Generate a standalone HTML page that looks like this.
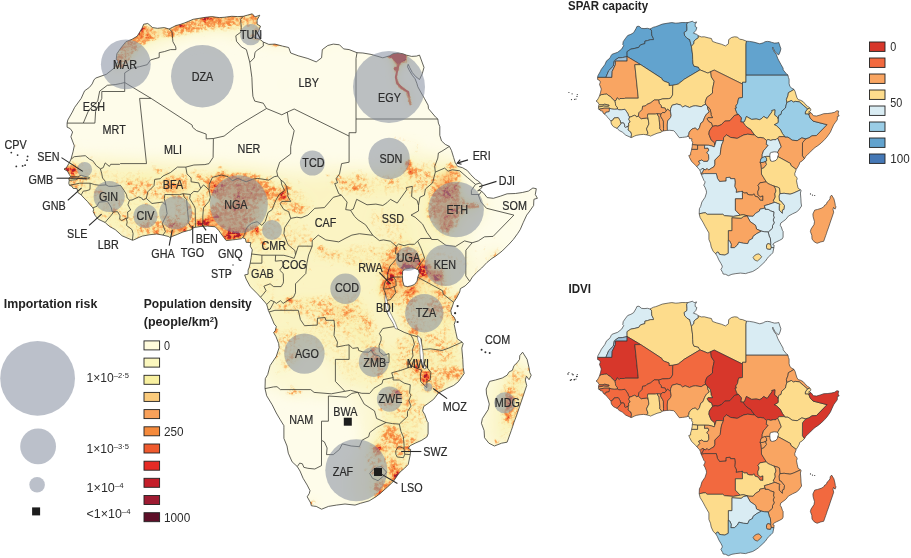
<!DOCTYPE html><html><head><meta charset="utf-8"><title>Africa maps</title><style>html,body{margin:0;padding:0;background:#fff}svg{display:block}text{font-family:"Liberation Sans",sans-serif;fill:#2b2b2b}.b{font-weight:bold;fill:#222}</style></head><body>
<svg width="911" height="558" viewBox="0 0 911 558">
<rect width="911" height="558" fill="#fff"/>
<defs>
<filter id="fb" filterUnits="userSpaceOnUse" x="0" y="-40" width="640" height="640"><feGaussianBlur stdDeviation="5"/></filter>
<filter id="fn" filterUnits="userSpaceOnUse" x="350" y="30" width="100" height="100"><feGaussianBlur stdDeviation="0.6"/></filter>
<filter id="ft" filterUnits="userSpaceOnUse" x="0" y="-40" width="640" height="640"><feGaussianBlur stdDeviation="7"/></filter>
<filter id="fd" filterUnits="userSpaceOnUse" x="40" y="0" width="540" height="540" color-interpolation-filters="sRGB">
<feGaussianBlur in="SourceGraphic" stdDeviation="4" result="H0"/>
<feColorMatrix in="H0" type="matrix" values="1 0 0 0 0  1 0 0 0 0  1 0 0 0 0  1 0 0 0 0" result="H1"/>
<feComponentTransfer in="H1" result="H"><feFuncR type="table" tableValues="0.984 0.984 0.976 0.973 0.976 0.984 0.980 0.980 0.980 0.980 0.980"/><feFuncG type="table" tableValues="0.969 0.969 0.949 0.941 0.878 0.796 0.753 0.722 0.722 0.722 0.722"/><feFuncB type="table" tableValues="0.745 0.745 0.667 0.627 0.565 0.486 0.447 0.416 0.416 0.416 0.416"/><feFuncA type="table" tableValues="0 0.12 0.25 0.4 0.6 0.8 1 1 1 1 1"/></feComponentTransfer>
<feGaussianBlur in="SourceGraphic" stdDeviation="1.6" result="D0"/>
<feTurbulence type="fractalNoise" baseFrequency="0.06" numOctaves="2" seed="5" result="T2"/>
<feColorMatrix in="T2" type="matrix" values="2.4 0 0 0 -0.7  2.4 0 0 0 -0.7  2.4 0 0 0 -0.7  0 0 0 0 1" result="N2"/>
<feComposite in="D0" in2="N2" operator="arithmetic" k1="0.7" k2="0.65" k3="0" k4="0" result="D"/>
<feTurbulence type="fractalNoise" baseFrequency="0.32" numOctaves="3" seed="11" result="T"/>
<feColorMatrix in="T" type="matrix" values="2.2 0 0 0 -0.6  2.2 0 0 0 -0.6  2.2 0 0 0 -0.6  0 0 0 0 1" result="N"/>
<feComposite in="D" in2="N" operator="arithmetic" k1="0.85" k2="0.08" k3="0" k4="0" result="V1"/>
<feComposite in="D" in2="D" operator="arithmetic" k1="1" k2="0" k3="0" k4="0" result="DD"/>
<feComposite in="V1" in2="DD" operator="arithmetic" k1="0" k2="1" k3="0.45" k4="0" result="V"/>
<feColorMatrix in="V" type="matrix" values="1 0 0 0 0  1 0 0 0 0  1 0 0 0 0  1 0 0 0 0" result="VA"/>
<feComponentTransfer in="VA" result="S"><feFuncR type="table" tableValues="0.984 0.984 0.984 0.980 0.976 0.969 0.961 0.941 0.910 0.824 0.659"/><feFuncG type="table" tableValues="0.796 0.796 0.796 0.722 0.631 0.576 0.541 0.439 0.271 0.165 0.118"/><feFuncB type="table" tableValues="0.486 0.486 0.486 0.416 0.353 0.290 0.235 0.227 0.169 0.157 0.176"/><feFuncA type="table" tableValues="0 0 0.3 0.8 1 1 1 1 1 1 1"/></feComponentTransfer>
<feMerge><feMergeNode in="H"/><feMergeNode in="S"/></feMerge>
</filter></defs>
<clipPath id="land"><path d="M143.7 24.2L147.8 23.5 152.6 27.6 157.5 28.3 164.3 27.6 169.1 29 176 25.5 180.1 24.5 184.9 22.8 193.2 19.3 205.5 17.3 211.7 16.6 219.3 17.6 224.1 17.3 231.7 16.3 237.8 16.6 243.3 16.3 252.3 13.8 255 16.9 259.8 15.2 257.1 20 257.1 24.2 260.5 26.2 258.4 31.7 253.6 37.2 259.8 39.3 263.3 42 268.8 44.4 274.9 44.1 282.5 46.1 288.7 47.5 290.7 53 298.3 55.8 307.9 58.5 316.2 61.9 321.6 57.8 322.3 49.6 327.8 45.5 333.3 44.1 339.5 44.8 343.6 48.9 349.1 49.6 357 52.7 362.9 53 371.1 54.4 382.8 57.8 389.7 55.8 393.1 53.7 397.9 53 402.7 53.7 406.2 55.1 411.6 56.4 416.5 56.1 419.5 55.1 424 67.4 422.3 73.6 419.5 79.5 415.8 76.7 412.3 72.6 409.6 67.4 408.2 64.3 407.5 66.7 409.6 70.9 412.3 75.3 415.1 78.8 416.8 83.2 417.8 86.7 420.2 91.1 424.4 98.4 428.1 105.2 428.5 108.7 435.7 117.2 437.8 119 438.4 123.1 439.8 126.5 439.8 135.4 441.5 140.9 445.3 144.4 449.4 146.4 451.5 150.6 453.6 157.4 455.3 162.9 457.7 166.4 462.5 167.7 467.3 170.5 470.7 174.6 475.5 179.4 477.9 180.8 480.3 182.9 482.1 184.9 481.7 188 477.6 190.8 480.7 190.4 481.4 191.4 483.1 192.5 487.2 197.6 493.4 198.3 500.3 196.2 507.1 193.8 515.4 193.5 522.3 192.5 528.4 191.1 532.9 188 536.3 188.7 535.3 194.5 537.4 198.3 533.9 199.3 533.6 205.5 529.8 211 526.7 215.1 523.3 222.4 520.2 229.6 517.8 233.3 513.3 239.5 509.2 244 502.3 250.9 495.8 256 492 258.4 486.9 262.5 481.7 268 476.6 272.5 472.4 277 469.7 281.4 465.2 285.9 460.4 288.6 459.7 292.1 458 295.2 456.6 297.9 453.6 302.3 452.9 304.8 450.8 310.6 451.5 314.4 454.2 317.2 455.6 320.3 454.2 324.4 455.6 331.2 457.3 338.8 460.4 340.9 462.1 342.1 463.2 343.6 461.8 348.1 462.8 359.4 463.2 367.7 464.2 373.5 458.4 381.7 453.6 385.5 446.7 388.6 438.4 393.1 433.6 399.3 428.1 403.4 423.7 406.5 422.6 410.9 424.7 414.4 427.1 421.2 428.1 422.6 428.1 433.9 426.8 437 421.3 440.5 415.8 442.9 410.3 445.6 408.2 448.4 410.6 449.4 410.3 454.6 408.2 464.5 404.8 468 400 472.1 397.6 475.2 393.4 481.4 387.3 487.2 380 493.7 375.9 496.8 369.1 500.9 360.5 503.3 355 505.1 345 504 336.4 505.1 328.5 506.4 321.6 509.2 316.2 506.4 313.4 506.1 311.3 505.7 310.7 503 307.2 496.8 309.3 493.4 310 490.6 307.2 485.1 303.1 478.3 300 471 297.3 466.6 292.1 461.8 288.3 453.2 287 446 283.9 438.4 283.9 427.8 283.9 425.7 280.1 419.5 276.3 413 272.2 404.8 266.7 395.8 265 388.6 265.3 378.6 267.7 374.5 270.1 365.6 276.3 356.3 279.1 347.7 278.7 343.6 276 336.7 273.6 332.6 275.3 330.6 276.3 326.4 274.2 324 272.5 319.9 269.1 312 268.4 310.6 268.1 309.6 267.7 307.9 266.7 304.5 265.7 303.1 260.5 297.2 257.4 293.8 250.2 286.6 246.1 279 244.7 274.9 248.1 274.2 248.1 270.1 249.2 267.4 250.2 263.2 251.2 257.4 251.6 254 252.3 249.8 250.2 246.1 250.9 242.6 246.1 242.3 245.4 238.8 242.6 237.8 241.3 238.8 235.8 239.5 232.3 239.9 226.2 240.6 222 235.1 218.6 230.3 215.2 226.8 207.6 226.1 202.9 226.3 200.7 226.5 195.4 227.3 192.5 228.1 191.1 229.9 188.7 230.4 182.9 232 177.4 234.4 172.2 236.4 169.8 237.5 168.8 236.6 163 235.1 156.8 234 149.9 234.7 142.3 236.1 138.9 237.5 133.8 239.9 132.4 240.2 122.1 235.8 115.2 229.6 110.1 226.8 106.3 223.7 105.2 222.5 98.4 219.3 95.3 215.8 93.2 211.7 93.6 209.3 92.9 207.9 90.1 204.8 87.4 201.4 83.9 198 81.2 194.9 77.8 192.5 77.1 188.7 73 188.3 71.9 186.3 69.5 185.3 68.8 183.5 69.2 180.4 68.8 178.4 70.6 176.7 69.2 174.3 67.5 171.2 64 169.1 66.4 167.7 68.8 163.6 70.9 159.5 73 151.9 74.3 145.8 70.9 136.8 72.6 132 70.2 128.6 67.1 127.2 67.1 123.1 67.8 120 72.3 112.1 74.7 107.3 81.2 98.4 84.6 90.8 89.4 87.4 92.2 83.9 93.9 80 95.6 78.1 106.3 74.3 114.2 68.1 118 61.3 116.2 59.5 116.9 53.7 120.7 48.2 125.9 41.7 132 39.3 137.2 36.2 142 28.3ZM522.6 352.2L527.1 359.4 529.1 368 529.8 372.5 531.2 375.2 529.1 379.7 526.4 376.2 525.3 380 526.7 385.5 523.6 394.8 520.9 402.7 519.5 406.8 516.4 416.1 514 422.3 512.6 426.7 511.3 430.5 507.1 442.2 501.6 443.2 494.4 446 488.9 443.2 484.5 437.7 484.1 430.5 481.4 423.3 482.4 418.5 488.2 409.6 489.3 404.1 486.5 394.1 486.2 389 489.6 381.4 495.5 380 502.3 378 507.1 375.2 509.2 371.8 512.3 370.4 514 365.6 517.1 362.8 519.5 359.4 519.8 355.6Z"/></clipPath>
<path d="M143.7 24.2L147.8 23.5 152.6 27.6 157.5 28.3 164.3 27.6 169.1 29 176 25.5 180.1 24.5 184.9 22.8 193.2 19.3 205.5 17.3 211.7 16.6 219.3 17.6 224.1 17.3 231.7 16.3 237.8 16.6 243.3 16.3 252.3 13.8 255 16.9 259.8 15.2 257.1 20 257.1 24.2 260.5 26.2 258.4 31.7 253.6 37.2 259.8 39.3 263.3 42 268.8 44.4 274.9 44.1 282.5 46.1 288.7 47.5 290.7 53 298.3 55.8 307.9 58.5 316.2 61.9 321.6 57.8 322.3 49.6 327.8 45.5 333.3 44.1 339.5 44.8 343.6 48.9 349.1 49.6 357 52.7 362.9 53 371.1 54.4 382.8 57.8 389.7 55.8 393.1 53.7 397.9 53 402.7 53.7 406.2 55.1 411.6 56.4 416.5 56.1 419.5 55.1 424 67.4 422.3 73.6 419.5 79.5 415.8 76.7 412.3 72.6 409.6 67.4 408.2 64.3 407.5 66.7 409.6 70.9 412.3 75.3 415.1 78.8 416.8 83.2 417.8 86.7 420.2 91.1 424.4 98.4 428.1 105.2 428.5 108.7 435.7 117.2 437.8 119 438.4 123.1 439.8 126.5 439.8 135.4 441.5 140.9 445.3 144.4 449.4 146.4 451.5 150.6 453.6 157.4 455.3 162.9 457.7 166.4 462.5 167.7 467.3 170.5 470.7 174.6 475.5 179.4 477.9 180.8 480.3 182.9 482.1 184.9 481.7 188 477.6 190.8 480.7 190.4 481.4 191.4 483.1 192.5 487.2 197.6 493.4 198.3 500.3 196.2 507.1 193.8 515.4 193.5 522.3 192.5 528.4 191.1 532.9 188 536.3 188.7 535.3 194.5 537.4 198.3 533.9 199.3 533.6 205.5 529.8 211 526.7 215.1 523.3 222.4 520.2 229.6 517.8 233.3 513.3 239.5 509.2 244 502.3 250.9 495.8 256 492 258.4 486.9 262.5 481.7 268 476.6 272.5 472.4 277 469.7 281.4 465.2 285.9 460.4 288.6 459.7 292.1 458 295.2 456.6 297.9 453.6 302.3 452.9 304.8 450.8 310.6 451.5 314.4 454.2 317.2 455.6 320.3 454.2 324.4 455.6 331.2 457.3 338.8 460.4 340.9 462.1 342.1 463.2 343.6 461.8 348.1 462.8 359.4 463.2 367.7 464.2 373.5 458.4 381.7 453.6 385.5 446.7 388.6 438.4 393.1 433.6 399.3 428.1 403.4 423.7 406.5 422.6 410.9 424.7 414.4 427.1 421.2 428.1 422.6 428.1 433.9 426.8 437 421.3 440.5 415.8 442.9 410.3 445.6 408.2 448.4 410.6 449.4 410.3 454.6 408.2 464.5 404.8 468 400 472.1 397.6 475.2 393.4 481.4 387.3 487.2 380 493.7 375.9 496.8 369.1 500.9 360.5 503.3 355 505.1 345 504 336.4 505.1 328.5 506.4 321.6 509.2 316.2 506.4 313.4 506.1 311.3 505.7 310.7 503 307.2 496.8 309.3 493.4 310 490.6 307.2 485.1 303.1 478.3 300 471 297.3 466.6 292.1 461.8 288.3 453.2 287 446 283.9 438.4 283.9 427.8 283.9 425.7 280.1 419.5 276.3 413 272.2 404.8 266.7 395.8 265 388.6 265.3 378.6 267.7 374.5 270.1 365.6 276.3 356.3 279.1 347.7 278.7 343.6 276 336.7 273.6 332.6 275.3 330.6 276.3 326.4 274.2 324 272.5 319.9 269.1 312 268.4 310.6 268.1 309.6 267.7 307.9 266.7 304.5 265.7 303.1 260.5 297.2 257.4 293.8 250.2 286.6 246.1 279 244.7 274.9 248.1 274.2 248.1 270.1 249.2 267.4 250.2 263.2 251.2 257.4 251.6 254 252.3 249.8 250.2 246.1 250.9 242.6 246.1 242.3 245.4 238.8 242.6 237.8 241.3 238.8 235.8 239.5 232.3 239.9 226.2 240.6 222 235.1 218.6 230.3 215.2 226.8 207.6 226.1 202.9 226.3 200.7 226.5 195.4 227.3 192.5 228.1 191.1 229.9 188.7 230.4 182.9 232 177.4 234.4 172.2 236.4 169.8 237.5 168.8 236.6 163 235.1 156.8 234 149.9 234.7 142.3 236.1 138.9 237.5 133.8 239.9 132.4 240.2 122.1 235.8 115.2 229.6 110.1 226.8 106.3 223.7 105.2 222.5 98.4 219.3 95.3 215.8 93.2 211.7 93.6 209.3 92.9 207.9 90.1 204.8 87.4 201.4 83.9 198 81.2 194.9 77.8 192.5 77.1 188.7 73 188.3 71.9 186.3 69.5 185.3 68.8 183.5 69.2 180.4 68.8 178.4 70.6 176.7 69.2 174.3 67.5 171.2 64 169.1 66.4 167.7 68.8 163.6 70.9 159.5 73 151.9 74.3 145.8 70.9 136.8 72.6 132 70.2 128.6 67.1 127.2 67.1 123.1 67.8 120 72.3 112.1 74.7 107.3 81.2 98.4 84.6 90.8 89.4 87.4 92.2 83.9 93.9 80 95.6 78.1 106.3 74.3 114.2 68.1 118 61.3 116.2 59.5 116.9 53.7 120.7 48.2 125.9 41.7 132 39.3 137.2 36.2 142 28.3ZM522.6 352.2L527.1 359.4 529.1 368 529.8 372.5 531.2 375.2 529.1 379.7 526.4 376.2 525.3 380 526.7 385.5 523.6 394.8 520.9 402.7 519.5 406.8 516.4 416.1 514 422.3 512.6 426.7 511.3 430.5 507.1 442.2 501.6 443.2 494.4 446 488.9 443.2 484.5 437.7 484.1 430.5 481.4 423.3 482.4 418.5 488.2 409.6 489.3 404.1 486.5 394.1 486.2 389 489.6 381.4 495.5 380 502.3 378 507.1 375.2 509.2 371.8 512.3 370.4 514 365.6 517.1 362.8 519.5 359.4 519.8 355.6Z" fill="#FEFCEA"/>
<g clip-path="url(#land)">
<g filter="url(#ft)">
<path fill="#FCF8D6" d="M61 157L102 155 150 157 205 160 253 164 287 167 335 164 377 167 411 150 432 153 452 157 466 181 483 195 487 215 473 229 466 249 473 270 473 291 462 311 466 339 473 373 445 401 435 435 418 462 397 490 370 511 349 497 349 469 363 442 356 414 349 397 322 397 287 394 267 387 253 353 253 311 232 291 232 256 212 249 171 249 122 249 88 229 54 195Z"/>
<path fill="#FBF4C4" d="M67 164L116 164 157 167 212 170 267 174 294 181 335 177 370 181 411 170 432 164 456 167 459 195 476 205 459 219 449 243 432 246 428 270 445 287 459 301 459 339 466 366 442 394 425 414 425 438 411 449 404 469 383 493 370 490 377 462 373 435 383 414 370 390 339 380 329 353 294 346 270 335 260 311 239 284 239 253 219 246 171 243 129 243 95 222 61 188Z"/>
<path fill="#FCF8D6" d="M112 67L116 43 140 19 171 23 205 12 246 9 263 16 260 43 246 40 225 35 191 38 164 47 136 61Z"/>
<path fill="#FCF8D6" d="M389 52L408 52 407 63 400 67 392 63Z"/>
<path fill="#FCF8D6" d="M480 435L483 380 514 353 535 373 521 421 507 449 487 449Z"/>
<path fill="#FBF4C4" d="M493 435L497 394 511 366 531 370 524 394 517 421 507 445Z"/>
</g>
<g filter="url(#fd)"><rect x="40" y="0" width="540" height="540" fill="#000"/>
<g filter="url(#fb)">
<path d="M425 239L445 246 466 244 473 263 466 280 452 291 445 274 432 263Z" fill="#2b2b2b"/>
<path d="M473 270L487 246 500 249 497 258 480 274Z" fill="#2e2e2e"/>
<path d="M246 254L247 277 260 298 274 301 280 287 274 260Z" fill="#2e2e2e"/>
<path d="M370 243L394 245 414 244 418 229 404 208 377 205 363 215Z" fill="#2e2e2e"/>
<path d="M298 328L329 322 349 342 349 359 329 366 304 349Z" fill="#333333"/>
<path d="M335 359L370 353 370 383 359 392 339 380Z" fill="#333333"/>
<path d="M67 164L102 167 150 170 184 170 212 170 253 173 280 177 294 184 315 195 315 212 287 219 274 229 253 236 246 243 219 239 205 229 164 237 129 241 109 225 92 212 81 198 67 184Z" fill="#363636"/>
<path d="M250 253L274 256 294 256 311 246 315 229 294 219 274 225 253 236Z" fill="#383838"/>
<path d="M308 244L335 246 363 244 387 249 383 267 363 274 335 263 311 260Z" fill="#424242"/>
<path d="M276 328L298 328 304 349 298 366 280 377 274 359Z" fill="#424242"/>
<path d="M335 174L363 170 390 174 411 160 435 160 435 181 421 195 397 195 370 198 342 195 335 188Z" fill="#424242"/>
<path d="M394 308L411 308 425 304 438 322 456 322 458 342 432 349 421 346 411 334 397 328Z" fill="#424242"/>
<path d="M370 353L390 346 411 332 432 339 462 342 465 373 438 394 425 392 411 383 390 380 373 383 370 366Z" fill="#474747"/>
<path d="M377 394L397 383 414 390 423 406 428 428 411 445 410 459 397 476 377 497 366 499 370 476 366 459 373 438 383 421Z" fill="#474747"/>
<path d="M280 299L301 294 329 294 356 294 370 304 377 325 380 346 373 356 356 349 339 328 315 322 294 315 274 311Z" fill="#4c4c4c"/>
<path d="M500 440L500 394 514 363 530 373 523 397 514 425 509 442Z" fill="#4c4c4c"/>
<path d="M383 249L397 244 421 249 432 263 445 274 445 287 458 301 456 322 438 322 425 304 411 308 394 308 380 301 379 277 383 260Z" fill="#545454"/>
<path d="M390 278L388 267 396 254 397 247 408 245 418 249 424 259 418 269 417 276 401 277Z" fill="#6b6b6b"/>
<path d="M438 172L458 172 459 188 459 201 475 203 478 206 460 212 456 223 451 234 442 233 435 225 429 220 426 210 430 198 434 186Z" fill="#9e9e9e"/>
</g><g style="mix-blend-mode:lighten">
<circle cx="283.2" cy="84.3" r="2.1" fill="#262626"/>
<circle cx="456.3" cy="258.1" r="2.1" fill="#262626"/>
<circle cx="287.3" cy="273.5" r="2.1" fill="#262626"/>
<circle cx="315.5" cy="222.7" r="2.1" fill="#262626"/>
<circle cx="239.1" cy="153.5" r="1.4" fill="#262626"/>
<circle cx="105.9" cy="156.1" r="2.1" fill="#262626"/>
<circle cx="169.1" cy="53.0" r="2.1" fill="#333333"/>
<circle cx="298.3" cy="55.8" r="2.1" fill="#333333"/>
<circle cx="388.3" cy="223.4" r="2.1" fill="#333333"/>
<circle cx="379.4" cy="238.5" r="2.1" fill="#333333"/>
<circle cx="411.0" cy="212.4" r="2.1" fill="#333333"/>
<circle cx="383.5" cy="208.3" r="2.1" fill="#333333"/>
<circle cx="509.9" cy="223.7" r="2.1" fill="#333333"/>
<circle cx="503.0" cy="249.5" r="2.7" fill="#333333"/>
<circle cx="445.3" cy="286.6" r="3.4" fill="#333333"/>
<circle cx="465.2" cy="285.9" r="1.4" fill="#333333"/>
<circle cx="397.9" cy="314.1" r="2.1" fill="#333333"/>
<circle cx="411.0" cy="428.1" r="2.7" fill="#333333"/>
<circle cx="342.9" cy="374.9" r="2.1" fill="#333333"/>
<circle cx="367.7" cy="424.0" r="2.1" fill="#333333"/>
<circle cx="324.4" cy="336.4" r="2.1" fill="#333333"/>
<circle cx="305.8" cy="370.7" r="2.1" fill="#333333"/>
<circle cx="342.3" cy="335.4" r="2.7" fill="#333333"/>
<circle cx="325.1" cy="283.8" r="2.7" fill="#333333"/>
<circle cx="332.0" cy="264.6" r="2.7" fill="#333333"/>
<circle cx="366.3" cy="263.2" r="2.7" fill="#333333"/>
<circle cx="314.8" cy="259.8" r="2.7" fill="#333333"/>
<circle cx="303.1" cy="283.8" r="2.1" fill="#333333"/>
<circle cx="359.4" cy="246.1" r="2.7" fill="#333333"/>
<circle cx="277.7" cy="281.1" r="2.1" fill="#333333"/>
<circle cx="263.9" cy="259.1" r="2.1" fill="#333333"/>
<circle cx="340.9" cy="237.5" r="2.1" fill="#333333"/>
<circle cx="323.7" cy="194.5" r="3.4" fill="#333333"/>
<circle cx="299.7" cy="181.5" r="3.4" fill="#333333"/>
<circle cx="98.4" cy="158.8" r="2.1" fill="#333333"/>
<circle cx="163.6" cy="155.0" r="1.4" fill="#333333"/>
<circle cx="167.1" cy="168.4" r="3.4" fill="#333333"/>
<circle cx="500.3" cy="407.5" r="3.4" fill="#333333"/>
<circle cx="503.0" cy="424.7" r="3.4" fill="#333333"/>
<path d="M180.8 32.4L204.9 27.6 228.9 26.2 239.2 26.9" fill="none" stroke="#383838" stroke-width="10.3" stroke-linecap="round" stroke-linejoin="round"/>
<ellipse cx="390.4" cy="182.2" rx="12.4" ry="6.2" fill="#383838"/>
<path d="M476.9 268L476.2 252.9 474.9 244" fill="none" stroke="#383838" stroke-width="2.7" stroke-linecap="round" stroke-linejoin="round"/>
<circle cx="183.9" cy="158.5" r="1.4" fill="#383838"/>
<circle cx="209.7" cy="46.8" r="2.1" fill="#404040"/>
<circle cx="220.7" cy="50.6" r="2.1" fill="#404040"/>
<circle cx="348.8" cy="49.9" r="2.1" fill="#404040"/>
<circle cx="371.1" cy="54.7" r="1.4" fill="#404040"/>
<circle cx="416.5" cy="82.9" r="1.4" fill="#404040"/>
<path d="M408.9 180.1L407.5 187.7 409.6 198" fill="none" stroke="#404040" stroke-width="3.4" stroke-linecap="round" stroke-linejoin="round"/>
<circle cx="379.4" cy="191.1" r="2.1" fill="#404040"/>
<circle cx="398.6" cy="187.0" r="2.1" fill="#404040"/>
<circle cx="366.3" cy="191.1" r="2.1" fill="#404040"/>
<circle cx="401.7" cy="204.8" r="2.1" fill="#404040"/>
<circle cx="408.2" cy="241.2" r="2.1" fill="#404040"/>
<circle cx="496.8" cy="204.8" r="2.1" fill="#404040"/>
<circle cx="522.3" cy="192.5" r="1.4" fill="#404040"/>
<circle cx="482.4" cy="201.4" r="2.1" fill="#404040"/>
<circle cx="494.8" cy="237.8" r="2.1" fill="#404040"/>
<circle cx="452.2" cy="325.1" r="2.7" fill="#404040"/>
<path d="M376.6 378.6L371.8 383.5 362.2 392.4" fill="none" stroke="#404040" stroke-width="2.7" stroke-linecap="round" stroke-linejoin="round"/>
<circle cx="398.6" cy="340.2" r="2.7" fill="#404040"/>
<circle cx="383.5" cy="393.8" r="2.7" fill="#404040"/>
<circle cx="338.8" cy="503.7" r="2.1" fill="#404040"/>
<circle cx="320.3" cy="393.1" r="2.1" fill="#404040"/>
<circle cx="288.0" cy="343.6" r="2.7" fill="#404040"/>
<circle cx="345.0" cy="294.1" r="2.7" fill="#404040"/>
<circle cx="328.5" cy="299.6" r="3.4" fill="#404040"/>
<circle cx="301.0" cy="297.6" r="2.7" fill="#404040"/>
<circle cx="349.1" cy="250.9" r="2.7" fill="#404040"/>
<circle cx="371.1" cy="290.7" r="3.4" fill="#404040"/>
<circle cx="376.6" cy="328.5" r="3.4" fill="#404040"/>
<circle cx="318.9" cy="297.6" r="3.4" fill="#404040"/>
<circle cx="383.5" cy="247.4" r="2.7" fill="#404040"/>
<circle cx="278.4" cy="239.2" r="2.1" fill="#404040"/>
<circle cx="266.7" cy="250.2" r="2.7" fill="#404040"/>
<circle cx="326.1" cy="230.6" r="2.1" fill="#404040"/>
<circle cx="296.9" cy="222.7" r="2.7" fill="#404040"/>
<circle cx="312.7" cy="186.3" r="2.1" fill="#404040"/>
<circle cx="132.7" cy="204.8" r="2.7" fill="#404040"/>
<circle cx="131.4" cy="239.9" r="1.4" fill="#404040"/>
<circle cx="81.9" cy="162.9" r="3.4" fill="#404040"/>
<circle cx="92.9" cy="162.9" r="2.1" fill="#404040"/>
<circle cx="91.5" cy="156.7" r="2.1" fill="#404040"/>
<circle cx="129.3" cy="175.3" r="3.4" fill="#404040"/>
<circle cx="119.0" cy="180.8" r="3.4" fill="#404040"/>
<circle cx="153.3" cy="165.0" r="3.4" fill="#404040"/>
<circle cx="507.1" cy="386.9" r="2.7" fill="#404040"/>
<circle cx="488.6" cy="409.6" r="1.4" fill="#404040"/>
<circle cx="292.1" cy="386.9" r="2.7" fill="#474747"/>
<ellipse cx="103.2" cy="211.7" rx="6.9" ry="6.2" fill="#474747"/>
<circle cx="204.2" cy="37.9" r="2.1" fill="#4c4c4c"/>
<circle cx="231.3" cy="40.6" r="2.1" fill="#4c4c4c"/>
<circle cx="244.7" cy="33.8" r="2.1" fill="#4c4c4c"/>
<circle cx="333.3" cy="44.8" r="2.1" fill="#4c4c4c"/>
<path d="M407.9 162.9L413.7 155.4 417.5 149.2 417.1 143 404.1 139.6 393.8 138.2" fill="none" stroke="#4c4c4c" stroke-width="2.7" stroke-linecap="round" stroke-linejoin="round"/>
<ellipse cx="352.6" cy="182.9" rx="15.1" ry="9.6" fill="#4c4c4c"/>
<circle cx="420.2" cy="189.0" r="2.1" fill="#4c4c4c"/>
<circle cx="388.3" cy="194.5" r="2.1" fill="#4c4c4c"/>
<circle cx="376.6" cy="217.2" r="2.1" fill="#4c4c4c"/>
<circle cx="372.5" cy="209.6" r="2.1" fill="#4c4c4c"/>
<circle cx="395.2" cy="243.3" r="2.1" fill="#4c4c4c"/>
<circle cx="455.3" cy="162.9" r="1.4" fill="#4c4c4c"/>
<circle cx="422.0" cy="213.8" r="2.1" fill="#4c4c4c"/>
<circle cx="479.7" cy="206.2" r="2.1" fill="#4c4c4c"/>
<path d="M486.5 259.8L495.5 253.6 497.5 248.1" fill="none" stroke="#4c4c4c" stroke-width="4.1" stroke-linecap="round" stroke-linejoin="round"/>
<circle cx="445.3" cy="293.5" r="2.1" fill="#4c4c4c"/>
<circle cx="424.7" cy="330.6" r="4.1" fill="#4c4c4c"/>
<circle cx="429.2" cy="343.6" r="2.1" fill="#4c4c4c"/>
<circle cx="423.3" cy="303.1" r="3.4" fill="#4c4c4c"/>
<circle cx="431.6" cy="299.6" r="3.4" fill="#4c4c4c"/>
<circle cx="435.0" cy="373.2" r="3.4" fill="#4c4c4c"/>
<circle cx="426.8" cy="420.6" r="2.1" fill="#4c4c4c"/>
<circle cx="422.0" cy="390.3" r="2.7" fill="#4c4c4c"/>
<circle cx="454.2" cy="352.5" r="4.1" fill="#4c4c4c"/>
<ellipse cx="382.1" cy="342.2" rx="2.1" ry="6.9" fill="#4c4c4c"/>
<circle cx="403.4" cy="359.4" r="4.1" fill="#4c4c4c"/>
<circle cx="365.6" cy="353.9" r="2.1" fill="#4c4c4c"/>
<circle cx="401.3" cy="411.6" r="3.4" fill="#4c4c4c"/>
<circle cx="389.0" cy="457.7" r="2.7" fill="#4c4c4c"/>
<circle cx="367.7" cy="455.6" r="2.1" fill="#4c4c4c"/>
<circle cx="373.2" cy="415.7" r="1.4" fill="#4c4c4c"/>
<circle cx="286.6" cy="347.0" r="2.7" fill="#4c4c4c"/>
<circle cx="283.9" cy="364.9" r="2.7" fill="#4c4c4c"/>
<circle cx="282.5" cy="333.3" r="2.7" fill="#4c4c4c"/>
<ellipse cx="311.3" cy="304.5" rx="8.9" ry="5.5" fill="#4c4c4c"/>
<circle cx="362.5" cy="290.4" r="2.1" fill="#4c4c4c"/>
<circle cx="353.9" cy="297.6" r="3.4" fill="#4c4c4c"/>
<circle cx="299.7" cy="309.9" r="2.7" fill="#4c4c4c"/>
<circle cx="369.1" cy="320.3" r="2.7" fill="#4c4c4c"/>
<circle cx="356.0" cy="330.6" r="2.7" fill="#4c4c4c"/>
<circle cx="382.1" cy="259.8" r="2.7" fill="#4c4c4c"/>
<circle cx="244.7" cy="274.9" r="1.0" fill="#4c4c4c"/>
<circle cx="279.7" cy="211.7" r="2.7" fill="#4c4c4c"/>
<circle cx="292.8" cy="240.9" r="2.1" fill="#4c4c4c"/>
<circle cx="291.4" cy="229.2" r="2.1" fill="#4c4c4c"/>
<circle cx="304.1" cy="225.4" r="2.1" fill="#4c4c4c"/>
<circle cx="285.9" cy="179.4" r="2.7" fill="#4c4c4c"/>
<circle cx="301.0" cy="199.3" r="3.4" fill="#4c4c4c"/>
<circle cx="331.3" cy="183.5" r="3.4" fill="#4c4c4c"/>
<circle cx="270.8" cy="178.7" r="2.1" fill="#4c4c4c"/>
<circle cx="194.6" cy="172.5" r="3.4" fill="#4c4c4c"/>
<circle cx="182.2" cy="216.5" r="3.4" fill="#4c4c4c"/>
<circle cx="183.6" cy="173.9" r="2.7" fill="#4c4c4c"/>
<circle cx="165.0" cy="215.1" r="2.7" fill="#4c4c4c"/>
<circle cx="138.9" cy="215.1" r="2.7" fill="#4c4c4c"/>
<circle cx="119.0" cy="222.0" r="2.7" fill="#4c4c4c"/>
<circle cx="115.5" cy="229.6" r="2.1" fill="#4c4c4c"/>
<circle cx="122.4" cy="211.7" r="2.7" fill="#4c4c4c"/>
<circle cx="110.4" cy="201.1" r="2.1" fill="#4c4c4c"/>
<circle cx="83.6" cy="186.3" r="2.7" fill="#4c4c4c"/>
<circle cx="74.3" cy="186.3" r="2.1" fill="#4c4c4c"/>
<circle cx="90.1" cy="175.6" r="2.1" fill="#4c4c4c"/>
<path d="M72.3 157.4L84.6 156.1 92.9 162.2" fill="none" stroke="#4c4c4c" stroke-width="2.1" stroke-linecap="round" stroke-linejoin="round"/>
<circle cx="67.5" cy="126.5" r="1.0" fill="#4c4c4c"/>
<ellipse cx="99.7" cy="194.5" rx="7.6" ry="4.8" fill="#525252"/>
<circle cx="496.8" cy="441.9" r="3.4" fill="#525252"/>
<circle cx="223.4" cy="30.7" r="2.1" fill="#595959"/>
<circle cx="249.5" cy="25.5" r="3.4" fill="#595959"/>
<path d="M266.7 44.8L274.9 44.4 282.5 46.1 288 47.5" fill="none" stroke="#595959" stroke-width="3.4" stroke-linecap="round" stroke-linejoin="round"/>
<circle cx="484.1" cy="248.8" r="2.1" fill="#595959"/>
<circle cx="476.6" cy="272.5" r="2.1" fill="#595959"/>
<path d="M453.6 301.7L458.4 294.1 460.1 290.7" fill="none" stroke="#595959" stroke-width="2.7" stroke-linecap="round" stroke-linejoin="round"/>
<path d="M384.2 293.5L383.5 301 384.9 310.6" fill="none" stroke="#595959" stroke-width="2.7" stroke-linecap="round" stroke-linejoin="round"/>
<ellipse cx="411.0" cy="297.6" rx="7.6" ry="5.5" fill="#595959"/>
<circle cx="426.4" cy="361.5" r="2.1" fill="#595959"/>
<circle cx="447.4" cy="376.6" r="3.4" fill="#595959"/>
<circle cx="395.8" cy="408.2" r="3.4" fill="#595959"/>
<circle cx="389.0" cy="403.7" r="2.7" fill="#595959"/>
<circle cx="391.7" cy="396.5" r="2.7" fill="#595959"/>
<circle cx="360.1" cy="447.7" r="2.1" fill="#595959"/>
<circle cx="354.3" cy="467.6" r="1.4" fill="#595959"/>
<circle cx="386.9" cy="461.1" r="3.4" fill="#595959"/>
<circle cx="301.7" cy="425.0" r="1.4" fill="#595959"/>
<circle cx="300.7" cy="355.3" r="2.1" fill="#595959"/>
<circle cx="296.6" cy="335.7" r="2.1" fill="#595959"/>
<circle cx="287.6" cy="322.3" r="2.1" fill="#595959"/>
<circle cx="384.9" cy="311.0" r="2.1" fill="#595959"/>
<circle cx="335.4" cy="255.0" r="2.7" fill="#595959"/>
<circle cx="373.9" cy="250.9" r="2.7" fill="#595959"/>
<circle cx="338.8" cy="321.6" r="3.4" fill="#595959"/>
<circle cx="271.5" cy="299.0" r="2.1" fill="#595959"/>
<circle cx="277.7" cy="219.9" r="2.1" fill="#595959"/>
<circle cx="261.2" cy="237.8" r="2.7" fill="#595959"/>
<circle cx="327.5" cy="175.0" r="2.1" fill="#595959"/>
<circle cx="222.0" cy="199.3" r="3.4" fill="#595959"/>
<circle cx="260.5" cy="215.8" r="3.4" fill="#595959"/>
<circle cx="266.7" cy="181.5" r="3.4" fill="#595959"/>
<circle cx="225.5" cy="171.9" r="3.4" fill="#595959"/>
<circle cx="204.2" cy="193.8" r="2.1" fill="#595959"/>
<circle cx="186.7" cy="187.3" r="2.7" fill="#595959"/>
<circle cx="160.2" cy="184.2" r="2.7" fill="#595959"/>
<circle cx="163.6" cy="197.3" r="3.4" fill="#595959"/>
<circle cx="160.2" cy="224.1" r="2.7" fill="#595959"/>
<circle cx="123.8" cy="220.6" r="2.7" fill="#595959"/>
<circle cx="108.7" cy="210.7" r="2.1" fill="#595959"/>
<circle cx="120.4" cy="198.7" r="2.1" fill="#595959"/>
<circle cx="86.0" cy="194.9" r="2.1" fill="#595959"/>
<circle cx="81.9" cy="181.5" r="2.7" fill="#595959"/>
<circle cx="74.3" cy="162.9" r="2.7" fill="#595959"/>
<circle cx="105.6" cy="170.8" r="2.1" fill="#595959"/>
<circle cx="132.4" cy="191.8" r="2.7" fill="#595959"/>
<circle cx="159.5" cy="171.5" r="3.4" fill="#595959"/>
<circle cx="149.9" cy="185.6" r="2.7" fill="#595959"/>
<circle cx="137.5" cy="187.7" r="3.4" fill="#595959"/>
<circle cx="522.9" cy="354.6" r="1.4" fill="#595959"/>
<circle cx="502.3" cy="378.0" r="1.4" fill="#595959"/>
<circle cx="484.5" cy="430.5" r="1.4" fill="#595959"/>
<circle cx="506.8" cy="441.9" r="1.4" fill="#595959"/>
<circle cx="525.7" cy="376.6" r="2.1" fill="#595959"/>
<circle cx="516.1" cy="363.5" r="2.1" fill="#595959"/>
<ellipse cx="338.8" cy="311.3" rx="15.1" ry="7.6" fill="#5c5c5c"/>
<ellipse cx="201.4" cy="204.8" rx="4.8" ry="11.0" fill="#5c5c5c"/>
<ellipse cx="149.9" cy="227.5" rx="13.7" ry="6.9" fill="#5c5c5c"/>
<ellipse cx="143.7" cy="181.5" rx="8.9" ry="4.8" fill="#5c5c5c"/>
<ellipse cx="399.3" cy="392.4" rx="8.9" ry="6.9" fill="#616161"/>
<ellipse cx="294.2" cy="392.4" rx="8.9" ry="2.7" fill="#616161"/>
<ellipse cx="280.4" cy="306.5" rx="7.6" ry="2.7" fill="#616161"/>
<circle cx="244.7" cy="19.3" r="3.4" fill="#666666"/>
<circle cx="345.7" cy="181.5" r="2.1" fill="#666666"/>
<circle cx="439.8" cy="135.4" r="1.4" fill="#666666"/>
<circle cx="417.8" cy="179.8" r="2.1" fill="#666666"/>
<circle cx="401.3" cy="236.8" r="2.1" fill="#666666"/>
<ellipse cx="450.8" cy="167.1" rx="6.9" ry="4.1" fill="#666666"/>
<circle cx="486.9" cy="204.5" r="2.1" fill="#666666"/>
<circle cx="381.4" cy="291.4" r="3.4" fill="#666666"/>
<circle cx="442.9" cy="316.8" r="2.1" fill="#666666"/>
<circle cx="429.9" cy="312.7" r="2.1" fill="#666666"/>
<circle cx="447.4" cy="305.1" r="3.4" fill="#666666"/>
<ellipse cx="455.6" cy="373.2" rx="8.9" ry="5.5" fill="#666666"/>
<path d="M427.4 433.6L424 439.1 415.1 442.5" fill="none" stroke="#666666" stroke-width="3.4" stroke-linecap="round" stroke-linejoin="round"/>
<circle cx="462.5" cy="359.4" r="2.1" fill="#666666"/>
<circle cx="458.4" cy="381.4" r="2.1" fill="#666666"/>
<circle cx="379.7" cy="369.4" r="1.7" fill="#666666"/>
<circle cx="368.4" cy="461.8" r="2.1" fill="#666666"/>
<circle cx="402.7" cy="459.7" r="2.7" fill="#666666"/>
<circle cx="314.8" cy="501.6" r="2.1" fill="#666666"/>
<circle cx="320.3" cy="247.8" r="2.7" fill="#666666"/>
<circle cx="310.0" cy="269.8" r="2.1" fill="#666666"/>
<circle cx="332.6" cy="306.5" r="3.4" fill="#666666"/>
<ellipse cx="296.2" cy="208.3" rx="9.6" ry="5.5" fill="#666666"/>
<circle cx="310.7" cy="207.2" r="2.1" fill="#666666"/>
<circle cx="251.6" cy="211.7" r="3.4" fill="#666666"/>
<circle cx="220.3" cy="167.7" r="2.7" fill="#666666"/>
<circle cx="211.7" cy="178.7" r="2.7" fill="#666666"/>
<circle cx="195.9" cy="199.3" r="2.1" fill="#666666"/>
<circle cx="167.1" cy="201.1" r="2.1" fill="#666666"/>
<circle cx="177.4" cy="217.9" r="2.7" fill="#666666"/>
<circle cx="167.8" cy="176.7" r="2.7" fill="#666666"/>
<circle cx="145.8" cy="205.2" r="2.7" fill="#666666"/>
<circle cx="138.9" cy="237.1" r="2.1" fill="#666666"/>
<circle cx="162.3" cy="233.7" r="2.1" fill="#666666"/>
<circle cx="138.9" cy="230.3" r="2.7" fill="#666666"/>
<circle cx="107.3" cy="215.8" r="2.1" fill="#666666"/>
<circle cx="101.5" cy="209.0" r="2.1" fill="#666666"/>
<circle cx="96.0" cy="201.1" r="2.1" fill="#666666"/>
<circle cx="114.9" cy="211.4" r="2.7" fill="#666666"/>
<circle cx="155.4" cy="170.5" r="2.1" fill="#666666"/>
<circle cx="150.6" cy="178.7" r="2.1" fill="#666666"/>
<circle cx="520.2" cy="386.2" r="2.1" fill="#666666"/>
<circle cx="526.4" cy="382.1" r="2.1" fill="#666666"/>
<path d="M118.3 61.3L129.3 51.6 134.8 42 146.5 35.1 163.6 31 170.5 31" fill="none" stroke="#6b6b6b" stroke-width="15.1" stroke-linecap="round" stroke-linejoin="round"/>
<path d="M173.9 29.7L187.7 25.5 204.9 20.7 222 20.7 235.8 19.3 242.6 19.3" fill="none" stroke="#6b6b6b" stroke-width="13.7" stroke-linecap="round" stroke-linejoin="round"/>
<ellipse cx="408.2" cy="400.6" rx="2.7" ry="7.6" fill="#6b6b6b"/>
<ellipse cx="292.5" cy="357.7" rx="6.2" ry="4.1" fill="#6b6b6b"/>
<ellipse cx="263.3" cy="195.9" rx="15.1" ry="8.2" fill="#6b6b6b"/>
<path d="M523.6 394.8L518.8 407.5 516.1 416.4 511.9 428.1" fill="none" stroke="#6b6b6b" stroke-width="3.4" stroke-linecap="round" stroke-linejoin="round"/>
<path d="M246.1 18L254.3 17.3 257.1 24.2 257.8 31.7 253.6 37.2 259.1 38.6" fill="none" stroke="#737373" stroke-width="8.2" stroke-linecap="round" stroke-linejoin="round"/>
<circle cx="253.6" cy="37.2" r="2.1" fill="#737373"/>
<circle cx="288.0" cy="47.5" r="2.1" fill="#737373"/>
<circle cx="427.4" cy="173.6" r="2.1" fill="#737373"/>
<circle cx="391.7" cy="179.4" r="2.1" fill="#737373"/>
<circle cx="431.6" cy="208.3" r="3.4" fill="#737373"/>
<circle cx="442.6" cy="280.4" r="3.4" fill="#737373"/>
<ellipse cx="408.2" cy="252.9" rx="6.9" ry="4.1" fill="#737373"/>
<circle cx="390.4" cy="254.3" r="2.7" fill="#737373"/>
<circle cx="455.6" cy="342.9" r="3.4" fill="#737373"/>
<ellipse cx="417.1" cy="349.1" rx="2.7" ry="8.9" fill="#737373"/>
<ellipse cx="438.4" cy="385.5" rx="7.6" ry="5.5" fill="#737373"/>
<circle cx="414.1" cy="401.3" r="2.1" fill="#737373"/>
<circle cx="415.1" cy="381.1" r="2.1" fill="#737373"/>
<circle cx="463.9" cy="369.7" r="2.1" fill="#737373"/>
<circle cx="426.8" cy="390.3" r="2.7" fill="#737373"/>
<circle cx="408.2" cy="363.5" r="2.7" fill="#737373"/>
<circle cx="364.2" cy="470.0" r="1.7" fill="#737373"/>
<circle cx="371.1" cy="446.3" r="2.4" fill="#737373"/>
<circle cx="277.0" cy="372.5" r="2.1" fill="#737373"/>
<circle cx="268.1" cy="308.2" r="1.4" fill="#737373"/>
<circle cx="313.4" cy="304.8" r="2.1" fill="#737373"/>
<circle cx="327.1" cy="314.1" r="2.1" fill="#737373"/>
<circle cx="362.9" cy="344.3" r="2.7" fill="#737373"/>
<circle cx="352.6" cy="312.0" r="2.7" fill="#737373"/>
<circle cx="251.4" cy="257.3" r="1.4" fill="#737373"/>
<circle cx="276.3" cy="206.2" r="2.1" fill="#737373"/>
<circle cx="287.3" cy="202.8" r="2.7" fill="#737373"/>
<circle cx="290.0" cy="199.3" r="2.1" fill="#737373"/>
<circle cx="269.8" cy="206.6" r="2.1" fill="#737373"/>
<circle cx="229.2" cy="204.1" r="2.7" fill="#737373"/>
<circle cx="206.2" cy="180.4" r="2.7" fill="#737373"/>
<circle cx="202.1" cy="205.9" r="2.1" fill="#737373"/>
<circle cx="178.4" cy="205.5" r="2.1" fill="#737373"/>
<circle cx="168.4" cy="219.6" r="2.7" fill="#737373"/>
<circle cx="181.8" cy="189.0" r="2.7" fill="#737373"/>
<circle cx="132.4" cy="219.3" r="2.7" fill="#737373"/>
<circle cx="103.5" cy="215.5" r="2.1" fill="#737373"/>
<circle cx="123.8" cy="216.9" r="2.7" fill="#737373"/>
<circle cx="70.9" cy="160.2" r="1.4" fill="#737373"/>
<circle cx="145.4" cy="192.5" r="2.1" fill="#737373"/>
<circle cx="141.3" cy="177.7" r="2.1" fill="#737373"/>
<circle cx="528.8" cy="368.3" r="2.1" fill="#737373"/>
<circle cx="516.8" cy="391.0" r="2.1" fill="#737373"/>
<ellipse cx="191.1" cy="215.1" rx="3.4" ry="13.1" fill="#757575"/>
<ellipse cx="173.9" cy="184.2" rx="13.1" ry="6.9" fill="#757575"/>
<ellipse cx="380.7" cy="486.5" rx="8.9" ry="4.8" fill="#787878"/>
<ellipse cx="397.2" cy="443.2" rx="4.1" ry="6.2" fill="#787878"/>
<ellipse cx="389.7" cy="432.9" rx="6.9" ry="5.5" fill="#7a7a7a"/>
<ellipse cx="235.8" cy="211.7" rx="27.5" ry="11.0" fill="#7a7a7a"/>
<circle cx="193.2" cy="21.4" r="2.1" fill="#808080"/>
<circle cx="251.9" cy="14.2" r="2.1" fill="#808080"/>
<circle cx="322.3" cy="49.6" r="2.1" fill="#808080"/>
<circle cx="406.2" cy="59.9" r="2.1" fill="#808080"/>
<circle cx="407.9" cy="64.3" r="1.4" fill="#808080"/>
<path d="M408.2 164.3L415.8 171.2 415.1 178 408.9 180.1 406.2 170.5Z" fill="#808080"/>
<circle cx="434.3" cy="164.0" r="2.1" fill="#808080"/>
<circle cx="358.4" cy="176.7" r="2.1" fill="#808080"/>
<circle cx="338.5" cy="177.7" r="2.1" fill="#808080"/>
<circle cx="480.7" cy="190.4" r="1.4" fill="#808080"/>
<ellipse cx="428.8" cy="270.1" rx="4.8" ry="6.9" fill="#808080"/>
<circle cx="384.9" cy="273.5" r="2.7" fill="#808080"/>
<circle cx="419.2" cy="281.1" r="3.4" fill="#808080"/>
<circle cx="448.7" cy="303.8" r="2.7" fill="#808080"/>
<ellipse cx="414.1" cy="331.2" rx="4.1" ry="3.4" fill="#808080"/>
<circle cx="388.3" cy="303.1" r="2.7" fill="#808080"/>
<circle cx="417.1" cy="335.4" r="2.1" fill="#808080"/>
<circle cx="393.1" cy="292.8" r="3.4" fill="#808080"/>
<circle cx="437.8" cy="392.7" r="2.1" fill="#808080"/>
<circle cx="413.0" cy="441.2" r="2.7" fill="#808080"/>
<ellipse cx="394.5" cy="470.7" rx="6.9" ry="8.9" fill="#808080"/>
<circle cx="384.9" cy="448.0" r="2.7" fill="#808080"/>
<ellipse cx="373.9" cy="472.1" rx="2.1" ry="4.8" fill="#808080"/>
<circle cx="400.0" cy="452.2" r="3.1" fill="#808080"/>
<circle cx="362.2" cy="439.4" r="1.7" fill="#808080"/>
<circle cx="357.4" cy="266.7" r="2.1" fill="#808080"/>
<circle cx="248.1" cy="241.2" r="2.1" fill="#808080"/>
<circle cx="252.9" cy="238.5" r="2.7" fill="#808080"/>
<circle cx="286.6" cy="187.7" r="2.1" fill="#808080"/>
<ellipse cx="246.1" cy="219.9" rx="5.5" ry="3.4" fill="#808080"/>
<circle cx="259.8" cy="187.7" r="3.4" fill="#808080"/>
<path d="M209.7 182.2L220.7 174.6 233 177.4 246.1 175.3 256.4 177.4" fill="none" stroke="#808080" stroke-width="6.2" stroke-linecap="round" stroke-linejoin="round"/>
<circle cx="192.2" cy="218.6" r="2.1" fill="#808080"/>
<circle cx="187.0" cy="197.3" r="2.4" fill="#808080"/>
<circle cx="187.0" cy="224.8" r="2.7" fill="#808080"/>
<circle cx="154.7" cy="193.2" r="2.1" fill="#808080"/>
<circle cx="168.1" cy="185.9" r="2.1" fill="#808080"/>
<circle cx="149.9" cy="217.2" r="2.1" fill="#808080"/>
<circle cx="139.9" cy="222.7" r="2.1" fill="#808080"/>
<circle cx="147.8" cy="223.4" r="1.7" fill="#808080"/>
<circle cx="99.7" cy="192.5" r="2.1" fill="#808080"/>
<path d="M70.2 178L79.1 177.4 88.1 178" fill="none" stroke="#808080" stroke-width="3.1" stroke-linecap="round" stroke-linejoin="round"/>
<circle cx="72.6" cy="183.5" r="2.1" fill="#808080"/>
<ellipse cx="508.5" cy="406.1" rx="4.1" ry="15.1" fill="#808080"/>
<path d="M177.4 26.2L187.7 22.8 204.9 18 222 18 237.1 16.9" fill="none" stroke="#8c8c8c" stroke-width="5.5" stroke-linecap="round" stroke-linejoin="round"/>
<circle cx="221.3" cy="21.4" r="2.1" fill="#8c8c8c"/>
<circle cx="437.1" cy="217.2" r="3.4" fill="#8c8c8c"/>
<circle cx="441.2" cy="183.5" r="3.4" fill="#8c8c8c"/>
<ellipse cx="453.6" cy="215.1" rx="4.8" ry="4.1" fill="#8c8c8c"/>
<circle cx="438.4" cy="199.3" r="2.7" fill="#8c8c8c"/>
<circle cx="445.3" cy="202.8" r="3.4" fill="#8c8c8c"/>
<ellipse cx="411.0" cy="289.3" rx="9.6" ry="5.5" fill="#8c8c8c"/>
<circle cx="419.9" cy="371.8" r="2.7" fill="#8c8c8c"/>
<circle cx="393.1" cy="427.8" r="2.4" fill="#8c8c8c"/>
<circle cx="375.9" cy="496.5" r="2.1" fill="#8c8c8c"/>
<circle cx="404.1" cy="467.3" r="2.1" fill="#8c8c8c"/>
<circle cx="276.7" cy="356.0" r="2.1" fill="#8c8c8c"/>
<circle cx="338.1" cy="310.6" r="2.1" fill="#8c8c8c"/>
<circle cx="265.7" cy="303.1" r="1.4" fill="#8c8c8c"/>
<circle cx="294.9" cy="211.4" r="2.1" fill="#8c8c8c"/>
<circle cx="256.4" cy="198.7" r="3.4" fill="#8c8c8c"/>
<circle cx="242.6" cy="217.2" r="2.1" fill="#8c8c8c"/>
<circle cx="213.1" cy="184.6" r="2.7" fill="#8c8c8c"/>
<circle cx="230.3" cy="216.5" r="2.7" fill="#8c8c8c"/>
<circle cx="192.5" cy="204.5" r="2.1" fill="#8c8c8c"/>
<circle cx="189.7" cy="222.7" r="2.1" fill="#8c8c8c"/>
<ellipse cx="176.0" cy="228.9" rx="11.0" ry="6.2" fill="#8c8c8c"/>
<circle cx="507.8" cy="417.5" r="2.1" fill="#8c8c8c"/>
<circle cx="512.6" cy="426.7" r="2.1" fill="#8c8c8c"/>
<circle cx="523.6" cy="394.8" r="2.1" fill="#8c8c8c"/>
<path d="M406.2 466.6L397.2 475.5 392.4 482.4 385.5 487.9 376.6 495.4" fill="none" stroke="#949494" stroke-width="4.8" stroke-linecap="round" stroke-linejoin="round"/>
<ellipse cx="239.2" cy="189.0" rx="30.9" ry="11.0" fill="#949494"/>
<path d="M121 48.2L132 39.3 138.9 34.5 143.7 25.5" fill="none" stroke="#999999" stroke-width="6.2" stroke-linecap="round" stroke-linejoin="round"/>
<circle cx="118.3" cy="61.3" r="2.1" fill="#999999"/>
<circle cx="171.2" cy="31.7" r="2.1" fill="#999999"/>
<circle cx="164.3" cy="28.3" r="2.1" fill="#999999"/>
<circle cx="237.5" cy="16.6" r="2.1" fill="#999999"/>
<circle cx="218.9" cy="17.6" r="2.1" fill="#999999"/>
<circle cx="274.9" cy="44.4" r="2.7" fill="#999999"/>
<circle cx="355.3" cy="187.3" r="2.7" fill="#999999"/>
<circle cx="414.4" cy="171.2" r="2.1" fill="#999999"/>
<circle cx="455.6" cy="177.4" r="2.1" fill="#999999"/>
<circle cx="431.9" cy="272.2" r="2.1" fill="#999999"/>
<circle cx="426.8" cy="266.7" r="2.1" fill="#999999"/>
<circle cx="396.5" cy="249.5" r="3.4" fill="#999999"/>
<circle cx="400.7" cy="272.8" r="3.4" fill="#999999"/>
<circle cx="392.4" cy="266.0" r="2.7" fill="#999999"/>
<circle cx="392.4" cy="259.1" r="4.1" fill="#999999"/>
<ellipse cx="400.7" cy="281.1" rx="3.4" ry="6.2" fill="#999999"/>
<circle cx="457.3" cy="305.8" r="1.0" fill="#999999"/>
<circle cx="423.7" cy="406.1" r="2.1" fill="#999999"/>
<circle cx="380.7" cy="408.5" r="2.1" fill="#999999"/>
<circle cx="375.9" cy="453.5" r="2.1" fill="#999999"/>
<circle cx="249.2" cy="267.4" r="1.4" fill="#999999"/>
<ellipse cx="222.0" cy="222.0" rx="19.2" ry="8.2" fill="#999999"/>
<circle cx="229.9" cy="186.6" r="2.7" fill="#999999"/>
<circle cx="215.5" cy="211.7" r="2.1" fill="#999999"/>
<circle cx="251.2" cy="184.6" r="2.7" fill="#999999"/>
<circle cx="245.9" cy="175.3" r="2.1" fill="#999999"/>
<circle cx="175.7" cy="235.1" r="2.1" fill="#999999"/>
<circle cx="77.1" cy="188.3" r="1.7" fill="#999999"/>
<circle cx="73.6" cy="172.9" r="2.1" fill="#999999"/>
<circle cx="74.7" cy="145.8" r="1.5" fill="#999999"/>
<circle cx="507.5" cy="406.6" r="2.1" fill="#999999"/>
<ellipse cx="452.2" cy="173.9" rx="7.6" ry="3.4" fill="#9e9e9e"/>
<ellipse cx="416.5" cy="366.3" rx="4.1" ry="6.2" fill="#9e9e9e"/>
<ellipse cx="178.4" cy="195.9" rx="6.2" ry="2.1" fill="#9e9e9e"/>
<ellipse cx="72.3" cy="169.8" rx="6.9" ry="4.8" fill="#9e9e9e"/>
<circle cx="146.5" cy="37.2" r="2.1" fill="#a6a6a6"/>
<circle cx="257.1" cy="24.2" r="2.1" fill="#a6a6a6"/>
<circle cx="258.1" cy="31.4" r="2.1" fill="#a6a6a6"/>
<circle cx="451.5" cy="165.0" r="2.7" fill="#a6a6a6"/>
<ellipse cx="441.9" cy="194.5" rx="7.6" ry="6.2" fill="#a6a6a6"/>
<ellipse cx="472.8" cy="205.5" rx="6.2" ry="2.4" fill="#a6a6a6"/>
<circle cx="442.9" cy="269.8" r="2.4" fill="#a6a6a6"/>
<circle cx="385.5" cy="268.0" r="3.4" fill="#a6a6a6"/>
<circle cx="436.4" cy="293.5" r="2.1" fill="#a6a6a6"/>
<ellipse cx="378.0" cy="358.0" rx="4.1" ry="2.7" fill="#a6a6a6"/>
<circle cx="360.1" cy="503.0" r="1.7" fill="#a6a6a6"/>
<circle cx="346.4" cy="312.4" r="2.1" fill="#a6a6a6"/>
<circle cx="373.2" cy="350.1" r="2.1" fill="#a6a6a6"/>
<circle cx="172.2" cy="236.1" r="2.1" fill="#a6a6a6"/>
<ellipse cx="235.8" cy="230.9" rx="12.4" ry="8.2" fill="#a8a8a8"/>
<ellipse cx="456.3" cy="192.5" rx="3.4" ry="8.9" fill="#adadad"/>
<ellipse cx="425.4" cy="377.3" rx="4.1" ry="6.9" fill="#adadad"/>
<ellipse cx="282.5" cy="196.6" rx="4.8" ry="6.9" fill="#adadad"/>
<circle cx="129.3" cy="53.0" r="2.4" fill="#b2b2b2"/>
<circle cx="144.4" cy="24.8" r="2.1" fill="#b2b2b2"/>
<circle cx="229.6" cy="20.4" r="2.1" fill="#b2b2b2"/>
<circle cx="204.2" cy="19.7" r="2.7" fill="#b2b2b2"/>
<circle cx="212.1" cy="18.0" r="2.4" fill="#b2b2b2"/>
<circle cx="495.8" cy="256.0" r="2.1" fill="#b2b2b2"/>
<circle cx="456.6" cy="297.9" r="2.1" fill="#b2b2b2"/>
<circle cx="454.2" cy="312.0" r="1.4" fill="#b2b2b2"/>
<circle cx="378.7" cy="375.9" r="2.4" fill="#b2b2b2"/>
<circle cx="393.1" cy="473.5" r="1.7" fill="#b2b2b2"/>
<circle cx="311.7" cy="240.0" r="1.7" fill="#b2b2b2"/>
<circle cx="287.6" cy="187.0" r="2.1" fill="#b2b2b2"/>
<circle cx="236.5" cy="181.1" r="2.1" fill="#b2b2b2"/>
<circle cx="220.3" cy="180.4" r="2.7" fill="#b2b2b2"/>
<circle cx="235.4" cy="198.0" r="2.1" fill="#b2b2b2"/>
<circle cx="237.1" cy="193.8" r="2.1" fill="#b2b2b2"/>
<circle cx="245.4" cy="202.1" r="2.1" fill="#b2b2b2"/>
<circle cx="235.8" cy="207.9" r="2.1" fill="#b2b2b2"/>
<circle cx="274.6" cy="188.7" r="2.1" fill="#b2b2b2"/>
<circle cx="220.0" cy="220.3" r="2.1" fill="#b2b2b2"/>
<circle cx="198.7" cy="177.4" r="2.1" fill="#b2b2b2"/>
<circle cx="233.0" cy="177.4" r="2.1" fill="#b2b2b2"/>
<circle cx="110.1" cy="226.8" r="2.1" fill="#b2b2b2"/>
<circle cx="75.0" cy="168.1" r="2.1" fill="#b2b2b2"/>
<circle cx="255.0" cy="230.9" r="4.8" fill="#b8b8b8"/>
<circle cx="149.9" cy="36.5" r="2.4" fill="#bfbfbf"/>
<circle cx="180.1" cy="24.8" r="2.1" fill="#bfbfbf"/>
<ellipse cx="445.3" cy="222.0" rx="6.2" ry="9.6" fill="#bfbfbf"/>
<ellipse cx="438.4" cy="275.6" rx="5.5" ry="4.8" fill="#bfbfbf"/>
<ellipse cx="391.7" cy="274.2" rx="4.8" ry="5.5" fill="#bfbfbf"/>
<path d="M385.5 280.4L382.4 287.3 384.2 293.5" fill="none" stroke="#bfbfbf" stroke-width="4.1" stroke-linecap="round" stroke-linejoin="round"/>
<ellipse cx="440.8" cy="292.8" rx="3.1" ry="2.1" fill="#bfbfbf"/>
<circle cx="410.3" cy="287.3" r="1.7" fill="#bfbfbf"/>
<circle cx="416.5" cy="365.9" r="1.7" fill="#bfbfbf"/>
<circle cx="222.7" cy="226.8" r="2.1" fill="#bfbfbf"/>
<circle cx="215.5" cy="216.5" r="2.1" fill="#bfbfbf"/>
<circle cx="226.8" cy="232.3" r="2.7" fill="#bfbfbf"/>
<circle cx="137.5" cy="36.5" r="2.1" fill="#cccccc"/>
<circle cx="448.7" cy="221.7" r="2.1" fill="#cccccc"/>
<circle cx="443.6" cy="222.7" r="2.1" fill="#cccccc"/>
<circle cx="416.5" cy="263.2" r="4.8" fill="#cccccc"/>
<ellipse cx="389.7" cy="292.8" rx="4.5" ry="6.2" fill="#cccccc"/>
<circle cx="424.7" cy="378.6" r="2.1" fill="#cccccc"/>
<circle cx="397.6" cy="392.4" r="2.7" fill="#cccccc"/>
<circle cx="378.0" cy="446.7" r="2.1" fill="#cccccc"/>
<circle cx="263.3" cy="243.7" r="2.1" fill="#cccccc"/>
<ellipse cx="213.1" cy="218.6" rx="6.2" ry="4.1" fill="#cccccc"/>
<ellipse cx="228.9" cy="237.1" rx="8.2" ry="3.1" fill="#cccccc"/>
<circle cx="207.3" cy="221.0" r="2.1" fill="#cccccc"/>
<circle cx="173.9" cy="185.3" r="2.4" fill="#cccccc"/>
<circle cx="93.6" cy="212.0" r="2.1" fill="#cccccc"/>
<circle cx="90.5" cy="204.5" r="2.1" fill="#cccccc"/>
<circle cx="254.3" cy="17.3" r="2.4" fill="#d9d9d9"/>
<ellipse cx="422.6" cy="269.4" rx="5.5" ry="8.2" fill="#d9d9d9"/>
<ellipse cx="407.5" cy="267.4" rx="7.6" ry="3.4" fill="#d9d9d9"/>
<circle cx="412.3" cy="267.0" r="2.1" fill="#d9d9d9"/>
<ellipse cx="389.7" cy="283.8" rx="5.8" ry="4.8" fill="#d9d9d9"/>
<circle cx="407.9" cy="448.4" r="2.4" fill="#d9d9d9"/>
<circle cx="250.9" cy="242.3" r="2.1" fill="#d9d9d9"/>
<ellipse cx="242.6" cy="187.7" rx="6.9" ry="4.8" fill="#d9d9d9"/>
<circle cx="173.3" cy="224.1" r="2.4" fill="#d9d9d9"/>
<circle cx="67.8" cy="168.4" r="1.7" fill="#d9d9d9"/>
<circle cx="129.3" cy="183.2" r="2.4" fill="#d9d9d9"/>
<circle cx="510.6" cy="399.9" r="2.1" fill="#d9d9d9"/>
<circle cx="132.0" cy="39.3" r="2.4" fill="#e6e6e6"/>
<circle cx="205.2" cy="17.6" r="2.4" fill="#e6e6e6"/>
<circle cx="395.8" cy="68.8" r="2.7" fill="#e6e6e6"/>
<circle cx="389.7" cy="55.8" r="2.1" fill="#e6e6e6"/>
<circle cx="407.9" cy="162.9" r="2.7" fill="#e6e6e6"/>
<circle cx="450.5" cy="208.3" r="3.1" fill="#e6e6e6"/>
<circle cx="423.3" cy="274.9" r="2.7" fill="#e6e6e6"/>
<circle cx="311.3" cy="503.3" r="2.1" fill="#e6e6e6"/>
<circle cx="275.3" cy="330.9" r="2.4" fill="#e6e6e6"/>
<circle cx="235.8" cy="225.8" r="2.1" fill="#e6e6e6"/>
<circle cx="211.0" cy="219.3" r="2.1" fill="#e6e6e6"/>
<ellipse cx="200.1" cy="224.1" rx="3.4" ry="4.1" fill="#e6e6e6"/>
<circle cx="192.8" cy="227.8" r="2.1" fill="#e6e6e6"/>
<circle cx="69.9" cy="178.0" r="1.7" fill="#e6e6e6"/>
<circle cx="437.1" cy="279.0" r="2.1" fill="#f2f2f2"/>
<circle cx="453.9" cy="316.8" r="2.4" fill="#f2f2f2"/>
<ellipse cx="377.3" cy="449.4" rx="4.5" ry="3.4" fill="#f2f2f2"/>
<circle cx="397.2" cy="475.2" r="2.4" fill="#f2f2f2"/>
<circle cx="289.4" cy="300.0" r="2.1" fill="#f2f2f2"/>
<ellipse cx="234.4" cy="232.3" rx="6.9" ry="6.2" fill="#f2f2f2"/>
<circle cx="238.5" cy="235.8" r="2.7" fill="#f2f2f2"/>
<circle cx="231.0" cy="227.8" r="2.1" fill="#f2f2f2"/>
<circle cx="232.3" cy="235.8" r="2.1" fill="#f2f2f2"/>
<circle cx="182.9" cy="231.6" r="2.4" fill="#f2f2f2"/>
<circle cx="156.8" cy="233.3" r="2.4" fill="#f2f2f2"/>
<path d="M389.7 55.8L393.1 53.7 397.9 53 402.7 53.7 406.2 55.1 406.2 59.9 399.6 64.3 397.2 64Z" fill="#ffffff"/>
<path d="M398.6 64L397.2 70.9 395.8 77.1 397.2 83.2 402 88 408.2 92.2 408.9 96.3 410.3 104.5" fill="none" stroke="#ffffff" stroke-width="2.1" stroke-linecap="round" stroke-linejoin="round"/>
<circle cx="207.6" cy="225.4" r="3.1" fill="#ffffff"/>
<circle cx="64.7" cy="168.8" r="2.1" fill="#ffffff"/>
</g></g>
<g filter="url(#fn)"><path d="M389.7 55.8L393.1 53.7 397.9 53 402.7 53.7 406.2 55.1 405.5 58.5 399.6 64.3 397.2 64Z" fill="#C3302A"/><path d="M398.6 64L397.2 70.9 395.8 77.1 397.2 83.2 402 88 408.2 92.2 408.9 96.3" fill="none" stroke="#D5402C" stroke-width="2" stroke-linecap="round" stroke-linejoin="round"/><path d="M408.9 96.3L410.3 104.5" fill="none" stroke="#EE7A3E" stroke-width="1.5" stroke-linecap="round"/><circle cx="395.8" cy="68.8" r="2" fill="#D5402C"/></g>
</g>
<g fill="none" stroke="#3a3a32" stroke-width="0.8" stroke-linejoin="round">
<path d="M143.7 24.2L147.8 23.5 152.6 27.6 157.5 28.3 164.3 27.6 169.1 29 176 25.5 180.1 24.5 184.9 22.8 193.2 19.3 205.5 17.3 211.7 16.6 219.3 17.6 224.1 17.3 231.7 16.3 237.8 16.6 243.3 16.3 252.3 13.8 255 16.9 259.8 15.2 257.1 20 257.1 24.2 260.5 26.2 258.4 31.7 253.6 37.2 259.8 39.3 263.3 42 268.8 44.4 274.9 44.1 282.5 46.1 288.7 47.5 290.7 53 298.3 55.8 307.9 58.5 316.2 61.9 321.6 57.8 322.3 49.6 327.8 45.5 333.3 44.1 339.5 44.8 343.6 48.9 349.1 49.6 357 52.7 362.9 53 371.1 54.4 382.8 57.8 389.7 55.8 393.1 53.7 397.9 53 402.7 53.7 406.2 55.1 411.6 56.4 416.5 56.1 419.5 55.1 424 67.4 422.3 73.6 419.5 79.5 415.8 76.7 412.3 72.6 409.6 67.4 408.2 64.3 407.5 66.7 409.6 70.9 412.3 75.3 415.1 78.8 416.8 83.2 417.8 86.7 420.2 91.1 424.4 98.4 428.1 105.2 428.5 108.7 435.7 117.2 437.8 119 438.4 123.1 439.8 126.5 439.8 135.4 441.5 140.9 445.3 144.4 449.4 146.4 451.5 150.6 453.6 157.4 455.3 162.9 457.7 166.4 462.5 167.7 467.3 170.5 470.7 174.6 475.5 179.4 477.9 180.8 480.3 182.9 482.1 184.9 481.7 188 477.6 190.8 480.7 190.4 481.4 191.4 483.1 192.5 487.2 197.6 493.4 198.3 500.3 196.2 507.1 193.8 515.4 193.5 522.3 192.5 528.4 191.1 532.9 188 536.3 188.7 535.3 194.5 537.4 198.3 533.9 199.3 533.6 205.5 529.8 211 526.7 215.1 523.3 222.4 520.2 229.6 517.8 233.3 513.3 239.5 509.2 244 502.3 250.9 495.8 256 492 258.4 486.9 262.5 481.7 268 476.6 272.5 472.4 277 469.7 281.4 465.2 285.9 460.4 288.6 459.7 292.1 458 295.2 456.6 297.9 453.6 302.3 452.9 304.8 450.8 310.6 451.5 314.4 454.2 317.2 455.6 320.3 454.2 324.4 455.6 331.2 457.3 338.8 460.4 340.9 462.1 342.1 463.2 343.6 461.8 348.1 462.8 359.4 463.2 367.7 464.2 373.5 458.4 381.7 453.6 385.5 446.7 388.6 438.4 393.1 433.6 399.3 428.1 403.4 423.7 406.5 422.6 410.9 424.7 414.4 427.1 421.2 428.1 422.6 428.1 433.9 426.8 437 421.3 440.5 415.8 442.9 410.3 445.6 408.2 448.4 410.6 449.4 410.3 454.6 408.2 464.5 404.8 468 400 472.1 397.6 475.2 393.4 481.4 387.3 487.2 380 493.7 375.9 496.8 369.1 500.9 360.5 503.3 355 505.1 345 504 336.4 505.1 328.5 506.4 321.6 509.2 316.2 506.4 313.4 506.1 311.3 505.7 310.7 503 307.2 496.8 309.3 493.4 310 490.6 307.2 485.1 303.1 478.3 300 471 297.3 466.6 292.1 461.8 288.3 453.2 287 446 283.9 438.4 283.9 427.8 283.9 425.7 280.1 419.5 276.3 413 272.2 404.8 266.7 395.8 265 388.6 265.3 378.6 267.7 374.5 270.1 365.6 276.3 356.3 279.1 347.7 278.7 343.6 276 336.7 273.6 332.6 275.3 330.6 276.3 326.4 274.2 324 272.5 319.9 269.1 312 268.4 310.6 268.1 309.6 267.7 307.9 266.7 304.5 265.7 303.1 260.5 297.2 257.4 293.8 250.2 286.6 246.1 279 244.7 274.9 248.1 274.2 248.1 270.1 249.2 267.4 250.2 263.2 251.2 257.4 251.6 254 252.3 249.8 250.2 246.1 250.9 242.6 246.1 242.3 245.4 238.8 242.6 237.8 241.3 238.8 235.8 239.5 232.3 239.9 226.2 240.6 222 235.1 218.6 230.3 215.2 226.8 207.6 226.1 202.9 226.3 200.7 226.5 195.4 227.3 192.5 228.1 191.1 229.9 188.7 230.4 182.9 232 177.4 234.4 172.2 236.4 169.8 237.5 168.8 236.6 163 235.1 156.8 234 149.9 234.7 142.3 236.1 138.9 237.5 133.8 239.9 132.4 240.2 122.1 235.8 115.2 229.6 110.1 226.8 106.3 223.7 105.2 222.5 98.4 219.3 95.3 215.8 93.2 211.7 93.6 209.3 92.9 207.9 90.1 204.8 87.4 201.4 83.9 198 81.2 194.9 77.8 192.5 77.1 188.7 73 188.3 71.9 186.3 69.5 185.3 68.8 183.5 69.2 180.4 68.8 178.4 70.6 176.7 69.2 174.3 67.5 171.2 64 169.1 66.4 167.7 68.8 163.6 70.9 159.5 73 151.9 74.3 145.8 70.9 136.8 72.6 132 70.2 128.6 67.1 127.2 67.1 123.1 67.8 120 72.3 112.1 74.7 107.3 81.2 98.4 84.6 90.8 89.4 87.4 92.2 83.9 93.9 80 95.6 78.1 106.3 74.3 114.2 68.1 118 61.3 116.2 59.5 116.9 53.7 120.7 48.2 125.9 41.7 132 39.3 137.2 36.2 142 28.3ZM522.6 352.2L527.1 359.4 529.1 368 529.8 372.5 531.2 375.2 529.1 379.7 526.4 376.2 525.3 380 526.7 385.5 523.6 394.8 520.9 402.7 519.5 406.8 516.4 416.1 514 422.3 512.6 426.7 511.3 430.5 507.1 442.2 501.6 443.2 494.4 446 488.9 443.2 484.5 437.7 484.1 430.5 481.4 423.3 482.4 418.5 488.2 409.6 489.3 404.1 486.5 394.1 486.2 389 489.6 381.4 495.5 380 502.3 378 507.1 375.2 509.2 371.8 512.3 370.4 514 365.6 517.1 362.8 519.5 359.4 519.8 355.6Z"/>
<path d="M169.1 29L171.9 31.4 172.2 33.8 172.6 38.6 172.9 41.7 175.7 46.8 176 49.6 170.5 49.6 164.3 51.6 159.2 52.7 159.2 57.5 150.6 59.9 147.2 64.7 139.6 66.7 132 68.1 124.7 72.9 124.7 82.5M124.7 82.5L120.4 83.6 115.2 84.6 107.3 85.3 99.7 91.1 97.7 101.1 88.8 110 83.3 123.1M124.7 82.5L124.7 91.5 101.8 91.5 101.8 98.4 95.6 111.4 94.9 123.1 83.3 123.1 67.1 123.1M124.7 82.5L151.1 98.4M151.1 98.4L139.6 98.4 146.5 163.6 120.4 163.6 119.7 164.3 110.7 164.3 109.4 166.4 105.2 162.9 103.2 167.7 100.4 168.8M100.4 168.8L96.3 165.7 92.9 160.9 89.4 159.1 85.3 155.7 80.5 156.1 74.3 156.7 72.3 158.1 70.9 159.5M100.4 168.8L101.8 173.9 102.5 178 105.2 181.1 105.9 184.9M105.9 184.9L99.7 185.3 94.6 184.6 90.1 183.2M90.1 183.2L79.8 183.2 69.5 185.3M90.1 183.2L90.1 187.7 89.8 189.7 86 190.8 83.3 191.1 81.2 194.9M69.2 180.4L75.7 179.7 78.5 178.4 84.6 179.1 89.1 178.7 89.4 177.4 86 176.7 81.2 175.3 77.8 176.7 70.6 176.7M105.9 184.9L108.7 186.3 113.5 186.3 120.4 185.3 123.8 190.1 126.5 194.5 127.2 198 129.5 200.2M129.5 200.2L127.9 204.8 130.7 210 127.6 212 127.9 218.2 126.1 218.2M126.1 218.2L121.7 220.6 119.7 219.3 120 215.8 117.6 211.7 113.7 211.8M92.9 207.9L97 206.2 99.1 202.1 107.3 201.4 109.7 204.8 111.4 207.9 112.1 211.7 113.7 211.8M113.7 211.8L111.4 215.1 106.6 220.6 105.2 222.5M126.1 218.2L127.2 222 126.5 225.4 132 229.6 133.1 233.7 132.4 240.2M129.5 200.2L132 200 138.6 196.9 141.7 198 143 200 146.3 198.4M146.3 198.4L152 203.5 162.3 202.1 165.8 205M165.8 205L167.1 213.8 162.3 223.4 165.4 231.6 163 235.1M165.8 205L164.3 198.7 164.8 194.5 179.4 194.7 183.2 193.7M183.2 193.7L184.2 197.3 186.7 199.3 187 204.8 187.7 211.7 188.4 219.3 188 222.4 191.1 226.8 192.5 228.1M183.2 193.7L190.4 194.5M190.4 194.5L189.7 198.7 193.9 205.5 195.2 208.3 195.4 222.7 195.4 227.3M190.4 194.5L193.9 191.4 198 191.8 200.7 188.3M200.7 188.3L203.5 184.9 209 189.7M209 189.7L210.4 197.3 209 201.4 203.5 207.9 202.8 215.8 202.9 226.3M146.3 198.4L147.8 191.8 154 185.6 154.7 179.4 160.2 178.7 163 176 170.5 172.5 177.4 167.1 185.8 167.1M185.8 167.1L187 173.9 191.1 178 191.1 181.8 198.7 182.9 199.4 184.9 200.7 188.3M185.8 167.1L193.9 165 204.9 164.6 209 163.6 213.1 157.4 213.4 138.5M151.1 98.4L192.2 125.1 192.5 127.2 196.6 130.6 206.2 134.1 206.2 138.9 213.4 138.5M213.4 138.5L224.1 136.1 235.8 126.9 266.5 108.5M266.5 108.5L263.3 103.2 254.7 101.1 252.9 96.3 252.3 88 251.9 77.7 249.8 62.4M249.8 62.4L246.4 49.6 241.3 46.8 236.5 41.3 235.8 35.8 240.9 32.1 241.3 27.6 240.6 19.3 243.3 16.3M249.8 62.4L254.3 57.8 255 52.3 257.1 50.3 263.3 46.1 263.3 42M266.5 108.5L281.8 114.8 287.3 112.1M287.3 112.1L294.2 109 349.1 136.1M349.1 136.1L349.1 132.7 356 132.7 356 119M356 119L356 58.5 357 52.7M356 119L437.8 119M287.3 112.1L288.7 122.4 294.2 130.6 290.7 146.4 290.7 154 279.7 162.2 276.7 171.2 277.7 176M209 189.7L209.3 184.2 212.4 177.4 221.3 175 228.2 176.7 232.3 180.8 237.8 178.4 246.1 181.8 252.9 179.1 257.8 178.4 268.8 180.1 274.2 176.7 277.7 176M277.7 176L281 180.2M281 180.2L281.8 184.9 284.6 190.4 279.1 194.5 275.6 200.7 272.2 209.6 268.1 212.4 265.3 221.3 261.9 225.4 257.1 221.7 253.6 222.7 251.6 223.4 248.1 226.1 245.4 230.3 244.7 234.4 242.6 237.8M281 180.2L283.9 182.2 286.6 186.3 288 194.5 287.6 195.9 290.7 201.4 281.8 201.4 280.1 203.8 283.9 209.6 288.7 211.7 290.7 218.4M290.7 218.4L284.6 227.5 283.9 233.7 284.6 235.8 287.3 242.6 288 244.7 294.9 250.5 295.5 254.8M295.5 254.8L294.2 258.4 289.4 256.7 283.9 255.3 275.6 255.2M275.6 255.2L261.9 255.2M261.9 255.2L251.6 254M261.9 255.2L261.9 263.2 250.2 263.2M275.6 255.2L275.3 261.2 281.8 260.5 283.9 264.6 279.7 270.1 283.2 273.5 283.5 281.1 283.2 283.2 281.1 286.6 273.6 286.6 270.1 283.8 263.9 286.2 266 290.7 263.3 294.1 260.5 297.2M295.5 254.8L298.3 246.1 312.2 246.2M312.2 246.2L308.6 255 306.9 263.2 305.8 273.5 295.5 283.8 295.5 292.8 293.5 297.2 289 299.6 283.2 303.4 280.4 300.7 276.3 303.4 274.2 301.7M274.2 301.7L270.8 300.3 266.7 304.5M274.2 301.7L270.1 309.3 268.1 309.6M269.1 312L274.9 310.3 298.3 310.3 300.4 319.6 304.5 325.7 317.2 325.1 317.5 318.2 325.1 317.5 325.8 320.3 334 320.3 334.7 327.1 334 335.4 337.5 342.2 336.8 347 345.7 345.3 349.1 344.8M349.1 344.8L349.1 359.4 335.4 359.4 335.4 381.4 344.9 391.3M265 388.6L273.6 386.9 277 386.7 280.4 389.6 310.7 389.6 314.1 392.4 331.3 393.8 344.9 391.3M344.9 391.3L350.5 390.3 357.8 392.3M357.8 392.3L351.9 393.4 346.4 397.2 328.4 396 328.4 421.2 321.5 421.2 321.5 440.3M321.5 440.3L321.5 465.6 314.8 469 307.9 468.3 303.8 467.3 302.4 463.8 299.7 463.1 297.3 466.6M321.5 440.3L324.4 441.9 327.1 448 326.5 454.6 333.3 454.6 339.5 449.4 342.3 443.9 351.2 446 359.4 446.7 362.2 440.1 368.7 436.7 369.7 432.6 376.6 427.4 386 422.5M386 422.5L376.6 418.5 374.5 410.9 364.2 404.1 357.8 392.3M357.8 392.3L361.8 393.3 369.7 393.4 373.9 388.3 382.1 383.5 383 379.7 393.2 377.5M393.2 377.5L393.1 380 399.3 380 404.1 383.1 410.3 384.8 409.6 393.1 411 395.1 408.9 400.6 411 406.1 407.5 411.6 407.5 416.4 399.3 424.1M399.3 424.1L392.4 423.6 386 422.5M399.3 424.1L401 431.5 403.4 437 404.1 445.3 404 448.4M404 448.4L404.8 454.2M404.8 454.2L403.4 457.7 397.2 457 395.8 454.2 395.8 450.8 397.9 447 400 446.9 404 448.4M404.8 454.2L410.3 454.6M381.4 466.6L386.6 472.1 384.2 475.5 378 480.7 372.5 478.3 369.7 473.5 373.2 469.3 377.3 467.3 381.4 466.6M349.1 344.8L352.6 348.4 358.1 347.7 358.7 350.5 362.9 351.9 369.1 352.2 371.1 349.8 373.9 354.6 379.4 356 383.5 362.2 389 362.5 389 353.6 383.8 355.3 379.4 351.9 379 345.7 381.1 340.2 381.1 336.7 379.4 333.6 382.8 328.5 395.5 326.4M395.5 326.4L397.9 329.2 404.1 332.3 410.6 334.7M410.6 334.7L413 338.8 414.4 344.3 412.3 349.8 413 356 408.9 363.5 412.3 366.3M412.3 366.3L400.7 370.4 391.7 372.8 393.2 377.5M410.6 334.7L417.1 336.7 421.3 338.8 422 349.6M422 349.6L420.6 353.9 421.3 362.8 424 363.5 430.9 372.5 430.2 380 426.8 381.4 426.8 387.8 420.6 381.4 420.6 373.2 422 370.4 412.3 366.3M422 349.6L430.2 348.8 441.9 350.5 448.7 348.1 462.1 342.1M395.5 326.4L386.2 311.3 385.9 300.7M385.9 300.7L390.4 299.6 395.8 292.8 394.1 286.6M394.1 286.6L389.7 288.6 383.6 289M383.6 289L385.2 292.8 385.9 300.7M383.6 289L384.2 285.2 385.2 281.4 387.6 279.6M387.6 279.6L392.4 277.3 393.6 277.4M393.6 277.4L395.8 280.4 396.2 285.9 394.1 286.6M393.6 277.4L395.8 277 417.3 277M417.3 277L442.6 290.7 443.2 294.1 453.6 302.3M417.3 277L417.1 269.4 418.5 267.4 421.3 262.5 424.7 258.4 421.3 248.8 417.7 241.1M417.7 241.1L414.4 244.3 408.9 244.3 404.1 245.7 398.6 244 396.2 246.1M396.2 246.1L395.5 253.6 399.3 255.3 393.8 261.9 390 266 387.6 273.5 387.6 279.6M396.2 246.1L390.4 241.2 383.5 239.9 379.4 240.6 372.8 235.3M372.8 235.3L359.4 233.7 351.9 235.1 345 238.5 338.8 241.9 325.8 239.9 318.2 235.1 312.2 240.6 312.2 246.2M290.7 218.4L296.9 217.2 301 217.9 307.9 215.1 314.8 208.3 324.4 207.6 333.3 197.3 341.4 195.1M341.4 195.1L347.1 202.1 345.7 209.6 350.5 210.3M350.5 210.3L354.6 216.5 358.1 219.9 365.6 224.8 372.8 235.3M349.1 136.1L349.1 162.2 341.6 163.6 339.5 173.9 336.1 178.7 337.5 182.9 334.7 183.5 338.8 193.8 341.4 195.1M350.5 210.3L353.3 209 356.7 199.3 367 204.8 375.9 204.1 382.8 205.5 386.9 202.8 390.4 199.3 397.2 203.1 406.8 189.7 406.2 187.7 412.3 186.3 411.6 196.6 417.1 200.4 418.5 205.2M418.5 205.2L418.5 211 411 215.1 415.1 217.2 422.6 224.1 426.8 232.3 431.2 238.4M431.2 238.4L420.6 238.5 417.7 241.1M431.2 238.4L431.6 239.5 437.8 239.5 446 245.4 455.6 246.4 464.5 240.9 472.1 242.8M472.1 242.8L465.9 250.2 465.8 270.1 465.8 275.9 469.7 281.4M472.1 242.8L478.3 240.9 484.5 236.8 493.1 236.4 513.9 215.1 486.5 208.3 481 202.1 478.3 194.9 479.3 194.5M479.3 194.5L481.4 191.4M479.3 194.5L471.4 194.5 471.4 190.4 475.5 184.4M475.5 184.4L480.3 182.9M475.5 184.4L467.3 177.4 459.7 170.8 452.2 169.8 448.1 171.2 444.6 168.1 435.3 172.1M435.3 172.1L434.7 166.4 437.8 158.1 438.4 153 441.9 151.2 449.4 146.4M435.3 172.1L432.6 182.9 425.4 189 424.4 195.2 419.9 197.3 418.5 205.2"/>
<path fill="#fff" d="M402.7 270.8L405.5 269.1 411 268 415.1 268.4 418.5 270.1 419.2 273.5 417.8 277 417.1 281.1 414.4 284.5 411 285.9 407.5 286.6 404.1 285.9 402.7 281.1 402.4 275.6Z"/>
<path fill="#fff" stroke-width="0.5" d="M385.5 293.5L387.3 301 388.3 308.6 391.7 315.4 395.2 322.3 397.9 329.2 395.2 328.5 392.8 323 388.6 316.1 385.9 308.6 384.9 299.6ZM417.5 335.4L420.6 338.1 422.3 347.7 423.3 354.6 423.3 362.2 426.1 368.3 424 369 422 365.6 420.6 361.5 419.9 352.5 419.9 345.7 417.8 339.5Z"/>
</g>
<g fill="#333"><circle cx="11.3" cy="152.6" r="0.9"/><circle cx="17.6" cy="155.1" r="0.9"/><circle cx="27.6" cy="156.4" r="0.9"/><circle cx="27.1" cy="160.2" r="0.9"/><circle cx="16.3" cy="166.4" r="0.9"/><circle cx="22.6" cy="165.9" r="0.9"/><circle cx="25.1" cy="165.2" r="0.9"/><circle cx="481.6" cy="349.8" r="1.0"/><circle cx="485.4" cy="352.3" r="1.0"/><circle cx="489.7" cy="353.1" r="1.0"/><circle cx="457.6" cy="306.1" r="1.1"/><circle cx="455.1" cy="313.2" r="1.1"/><circle cx="457.6" cy="322.0" r="1.1"/><circle cx="568.0" cy="374.0" r="0.8"/><circle cx="573.0" cy="374.7" r="0.8"/><circle cx="576.7" cy="376.5" r="0.8"/><circle cx="570.5" cy="380.2" r="0.8"/><circle cx="574.2" cy="379.7" r="0.8"/><circle cx="229.5" cy="272.5" r="0.7"/><circle cx="233.0" cy="265.0" r="0.7"/></g>
<g fill="#838C9F" fill-opacity="0.55">
<circle cx="125.8" cy="64.3" r="24.9"/>
<circle cx="202.3" cy="76.2" r="31.3"/>
<circle cx="250.8" cy="34.7" r="10.6"/>
<circle cx="389" cy="87" r="36"/>
<circle cx="389.1" cy="158.5" r="20.7"/>
<circle cx="312.4" cy="163.1" r="12.5"/>
<circle cx="456.1" cy="209.5" r="27.8"/>
<circle cx="238.9" cy="204.3" r="29"/>
<circle cx="272" cy="230" r="10"/>
<circle cx="109.2" cy="196.5" r="15.6"/>
<circle cx="84.6" cy="169.4" r="7.5"/>
<circle cx="145.5" cy="215.9" r="12"/>
<circle cx="175.7" cy="212.8" r="16.5"/>
<circle cx="407.6" cy="258.9" r="12"/>
<circle cx="445.5" cy="265.3" r="20.8"/>
<circle cx="345.5" cy="288.7" r="15.2"/>
<circle cx="424.3" cy="313.2" r="19.2"/>
<circle cx="304.4" cy="353.6" r="20.2"/>
<circle cx="373.8" cy="362" r="15"/>
<circle cx="389.5" cy="399.1" r="12.6"/>
<circle cx="428.1" cy="387.2" r="4.3"/>
<circle cx="504.7" cy="402.8" r="10.5"/>
<circle cx="356.3" cy="470.3" r="31"/>
<circle cx="37.6" cy="378.3" r="37.4"/><circle cx="38.1" cy="446.4" r="17.9"/><circle cx="37.1" cy="484.8" r="7.8"/>
</g>
<g fill="#1d1d1d"><rect x="343.8" y="417.7" width="8" height="8"/><rect x="374" y="468" width="8" height="8"/><rect x="32.1" y="507.4" width="8" height="8"/></g>
<g stroke="#2a2a2a" stroke-width="1.1" fill="none">
<path d="M61.5 157.6L82.8 171.4"/>
<path d="M56.5 178.2L86.6 178.2"/>
<path d="M67.8 200.3L81.6 187.8"/>
<path d="M89.1 225.4L101.6 214.1"/>
<path d="M169.2 245.7L172.3 229.6"/>
<path d="M192.7 243.4L192.7 226"/>
<path d="M206.1 230.4L202.3 225"/>
<path d="M468 159.9L457.2 163.1"/>
<path d="M496.5 181.4L479.2 186.8"/>
<path d="M379.3 272.3L390.7 284.2"/>
<path d="M447.1 398.6L433.2 388.5"/>
<path d="M397.4 483.5L381 473.9"/>
<path d="M421.4 451.5L401.2 451.5"/>
<path d="M460.2 159.6L457.2 163.1L461.5 164.3"/>
</g>
<g font-size="12" text-anchor="middle" stroke="#2b2b2b" stroke-width="0.2" transform="scale(0.9,1)">
<text x="138.9" y="68.8">MAR</text>
<text x="225.0" y="80.8">DZA</text>
<text x="278.9" y="38.8">TUN</text>
<text x="343.0" y="87.0">LBY</text>
<text x="432.8" y="102.3">EGY</text>
<text x="104.4" y="111.3">ESH</text>
<text x="126.9" y="133.8">MRT</text>
<text x="192.3" y="153.9">MLI</text>
<text x="276.7" y="153.3">NER</text>
<text x="348.3" y="166.9">TCD</text>
<text x="434.3" y="162.8">SDN</text>
<text x="535.2" y="160.4">ERI</text>
<text x="563.3" y="185.5">DJI</text>
<text x="571.8" y="210.1">SOM</text>
<text x="508.1" y="213.8">ETH</text>
<text x="17.3" y="148.6">CPV</text>
<text x="53.8" y="160.7">SEN</text>
<text x="45.4" y="184.0">GMB</text>
<text x="60.0" y="210.1">GNB</text>
<text x="120.6" y="200.8">GIN</text>
<text x="85.9" y="237.7">SLE</text>
<text x="120.4" y="249.0">LBR</text>
<text x="161.7" y="220.2">CIV</text>
<text x="192.3" y="189.0">BFA</text>
<text x="181.1" y="258.3">GHA</text>
<text x="213.8" y="257.3">TGO</text>
<text x="229.8" y="242.7">BEN</text>
<text x="262.1" y="208.6">NGA</text>
<text x="304.1" y="250.3">CMR</text>
<text x="255.9" y="258.3">GNQ</text>
<text x="246.1" y="278.0">STP</text>
<text x="291.6" y="278.5">GAB</text>
<text x="327.1" y="269.2">COG</text>
<text x="361.7" y="227.5">CAF</text>
<text x="436.6" y="222.7">SSD</text>
<text x="453.8" y="262.5">UGA</text>
<text x="494.4" y="269.0">KEN</text>
<text x="411.7" y="271.6">RWA</text>
<text x="427.7" y="312.0">BDI</text>
<text x="385.6" y="292.3">COD</text>
<text x="473.3" y="317.5">TZA</text>
<text x="341.0" y="357.9">AGO</text>
<text x="416.4" y="367.5">ZMB</text>
<text x="464.4" y="368.0">MWI</text>
<text x="505.3" y="410.6">MOZ</text>
<text x="433.8" y="403.3">ZWE</text>
<text x="552.9" y="344.1">COM</text>
<text x="563.6" y="406.6">MDG</text>
<text x="334.7" y="424.5">NAM</text>
<text x="383.8" y="415.6">BWA</text>
<text x="381.1" y="476.3">ZAF</text>
<text x="483.7" y="456.3">SWZ</text>
<text x="457.6" y="491.6">LSO</text>
</g>
<g stroke="#2e2e2e" stroke-width="0.65" stroke-linejoin="round">
<path fill="#62A3CE" d="M636.9 26.5L639 26.2 641.5 28.3 644 28.6 647.5 28.3 650 29 651.4 30.2 651.6 31.5 651.7 33.9 651.9 35.5 653.3 38.2 653.5 39.6 650.7 39.6 647.5 40.6 644.9 41.2 644.9 43.6 640.5 44.9 638.7 47.4 634.8 48.4 630.9 49.1 627.1 51.6 627.1 56.5 624.9 57.1 622.3 57.6 618.2 57.9 614.3 60.9 613.3 66.1 608.7 70.7 605.9 77.4 597.6 77.4 597.9 75.8 600.2 71.7 601.4 69.2 604.8 64.7 606.6 60.8 609 59 610.4 57.2 611.3 55.2 612.2 54.2 617.7 52.3 621.7 49.1 623.7 45.6 622.8 44.7 623.2 41.7 625.1 38.9 627.7 35.5 630.9 34.3 633.6 32.7 636 28.6Z"/>
<path fill="#9DBFD9" d="M605.9 77.4L608.7 70.7 613.3 66.1 614.3 60.9 618.2 57.9 622.3 57.6 624.9 57.1 627.1 56.5 627.1 61.1 615.4 61.1 615.4 64.7 612.2 71.4 611.9 77.4Z"/>
<path fill="#62A3CE" d="M650 29L653.5 27.2 655.6 26.7 658.1 25.8 662.3 24.1 668.7 23 671.9 22.6 675.8 23.2 678.2 23 682.1 22.5 685.3 22.6 688.1 22.5 686.7 24.1 687 28.3 686.9 30.6 684.2 32.5 684.6 35.4 687 38.2 689.7 39.6 691.4 46.2 692.5 54.1 692.7 59.4 693 63.6 693.9 66.1 698.3 67.1 700 69.9 684.2 79.3 678.2 84.1 672.8 85.3 669 85.5 669 83 664.1 81.2 662 79.5 661.8 78.4 640.7 64.7 627.1 56.5 627.1 51.6 630.9 49.1 634.8 48.4 638.7 47.4 640.5 44.9 644.9 43.6 644.9 41.2 647.5 40.6 650.7 39.6 653.5 39.6 653.3 38.2 651.9 35.5 651.7 33.9 651.6 31.5 651.4 30.2Z"/>
<path fill="#9ACDE6" d="M688.1 22.5L692.7 21.2 694.1 22.8 696.6 21.9 695.2 24.4 695.2 26.5 696.9 27.6 695.9 30.4 693.4 33.2 696.6 34.3 698.3 35.7 698.3 37.8 695.2 39.9 694.1 41 693.8 43.8 691.4 46.2 689.7 39.6 687 38.2 684.6 35.4 684.2 32.5 686.9 30.6 687 28.3 686.7 24.1Z"/>
<path fill="#FDDC8C" d="M698.3 35.7L701.2 36.9 704.3 36.8 708.2 37.8 711.4 38.5 712.5 41.4 716.3 42.8 721.3 44.2 725.5 45.9 728.4 43.8 728.7 39.6 731.5 37.5 734.4 36.8 737.5 37.1 739.6 39.2 742.5 39.6 746.5 41.2 746 44.2 746 75.2 746 82.3 742.5 82.3 742.5 84.1 714.2 70.1 710.7 71.7 707.9 73.1 700 69.9 698.3 67.1 693.9 66.1 693 63.6 692.7 59.4 692.5 54.1 691.4 46.2 693.8 43.8 694.1 41 695.2 39.9 698.3 37.8Z"/>
<path fill="#62A3CE" d="M746.5 41.2L749.5 41.4 753.8 42.1 759.8 43.8 763.3 42.8 765.1 41.7 767.5 41.4 770 41.7 771.8 42.4 774.6 43.1 777.1 42.9 778.7 42.4 780.9 48.8 780.1 51.9 778.7 54.9 776.7 53.5 774.9 51.4 773.5 48.8 772.8 47.2 772.5 48.4 773.5 50.5 774.9 52.8 776.4 54.6 777.2 56.9 777.8 58.6 779 60.9 781.1 64.7 783.1 68.2 783.2 69.9 786.9 74.4 788 75.2 746 75.2 746 44.2Z"/>
<path fill="#F9A562" d="M599.5 96.1L600.6 92.2 601.3 89 599.5 84.4 600.4 81.9 599.2 80.2 597.6 79.5 597.6 77.4 605.9 77.4 611.9 77.4 612.2 71.4 615.4 64.7 615.4 61.1 627.1 61.1 627.1 56.5 640.7 64.7 634.8 64.7 638.3 98.2 624.9 98.2 624.6 98.5 620 98.5 619.3 99.6 617.2 97.8 616.1 100.3 614.7 100.8 612.6 99.2 610.8 96.8 609 95.9 606.9 94.1 604.4 94.3 601.3 94.7 600.2 95.4Z"/>
<path fill="#FDDC8C" d="M614.7 100.8L616.1 100.3 617.2 97.8 619.3 99.6 620 98.5 624.6 98.5 624.9 98.2 638.3 98.2 634.8 64.7 640.7 64.7 661.8 78.4 662 79.5 664.1 81.2 669 83 669 85.5 672.8 85.3 672.6 95 670.5 98.2 668.3 98.7 662.7 98.9 658.6 100 654.2 100 650.7 102.8 646.8 104.5 645.4 106 642.6 106.3 642.2 109.5 639 112.7 638.3 116.1 636.6 116.9 635.9 115.8 634.3 115.3 630.9 116.9 629.6 117 628.5 115.8 628.1 114.1 626.7 111.8 624.9 109.3 621.4 109.8 618.9 109.8 617.5 109.1 617.2 107.2 615.7 105.6 615.4 103.5Z"/>
<path fill="#FDDC8C" d="M670.5 111.6L667.6 109.1 666.2 110.9 665.5 109.1 665.2 108.1 661.3 107.5 661.3 105.6 659.2 103.5 658.6 100 662.7 98.9 668.3 98.7 670.5 98.2 672.6 95 672.8 85.3 678.2 84.1 684.2 79.3 700 69.9 707.9 73.1 710.7 71.7 711.4 77 714.2 81.2 712.5 89.4 712.5 93.2 706.8 97.5 705.2 102.1 705.8 104.5 704 104.9 701.2 106.7 695.5 105.8 693 106.1 689.5 107.5 685.3 105.8 682.5 107 680.3 104.9 676.8 104 672.2 105.2 670.6 108.8Z"/>
<path fill="#F9A562" d="M710.7 71.7L714.2 70.1 742.5 84.1 742.5 97.5 738.6 98.2 737.5 103.5 735.8 106 736.5 108.1 735.1 108.4 737.2 113.7 738.5 114.4 734.4 115.5 729.8 120.8 724.8 121.1 721.3 124.7 717.8 126.1 715.6 125.7 712.5 126.4 711.4 122.9 708.9 121.8 707 118.8 707.9 117.6 712.5 117.6 710.9 114.8 711.1 114.1 710.3 109.8 708.9 107.7 707.5 106.7 705.8 104.5 705.2 102.1 706.8 97.5 712.5 93.2 712.5 89.4 714.2 81.2 711.4 77Z"/>
<path fill="#9ACDE6" d="M788 75.2L788.4 77.4 789.1 79.1 789.1 83.7 789.9 86.5 791.9 88.3 794 89.4 790.1 91.8 788.4 92.7 788 95.4 786.4 99.6 786.8 102.5 785.4 108.1 781.7 111.2 781.1 114.4 778.8 115.5 778.1 119.5 777.4 117.1 774.6 115.1 774.9 109.8 771.8 110.5 772.1 111.6 767.2 118.5 763.6 116.5 761.9 118.3 759.8 119.7 756.2 119 751.6 119.4 746.4 116.5 744.6 121.5 743.2 122.2 740.7 121.8 741.4 118 738.5 114.4 737.2 113.7 735.1 108.4 736.5 108.1 735.8 106 737.5 103.5 738.6 98.2 742.5 97.5 742.5 84.1 742.5 82.3 746 82.3 746 75.2Z"/>
<path fill="#FDDC8C" d="M794 89.4L795.1 91.5 796.1 95 797 97.8 798.2 99.6 800.7 100.3 803.2 101.7 805 103.8 807.4 106.3 808.7 107 809.9 108.1 807.4 108.9 803.2 105.2 799.3 101.9 795.4 101.4 793.3 102.1 791.5 100.5 786.8 102.5 786.4 99.6 788 95.4 788.4 92.7 790.1 91.8Z"/>
<path fill="#FDDC8C" d="M809.9 108.1L810.8 109.1 810.6 110.7 808.5 112.1 810.1 112 810.4 112.5 809.4 114.1 805.3 114.1 805.3 112 807.4 108.9Z"/>
<path fill="#9ACDE6" d="M784.7 136.6L782.4 133.5 780.2 129.2 776.4 125.7 774.2 124.7 778.1 122.5 778.1 119.5 778.8 115.5 781.1 114.4 781.7 111.2 785.4 108.1 786.8 102.5 791.5 100.5 793.3 102.1 795.4 101.4 799.3 101.9 803.2 105.2 807.4 108.9 805.3 112 805.3 114.1 809.4 114.1 808.8 114.2 810.2 118 813.1 121.1 827.1 124.7 816.4 135.6 812 135.8 808.8 137.9 805.7 138.9 801.8 137.9 797.2 140.7 792.2 140.2 788 137.2 784.8 137.2Z"/>
<path fill="#F9A562" d="M810.4 112.5L811.3 113 813.4 115.7 816.6 116 820.1 115 823.7 113.7 827.9 113.5 831.4 113 834.6 112.3 836.9 110.7 838.7 111.1 838.1 114.1 839.2 116 837.4 116.5 837.3 119.7 835.3 122.5 833.7 124.7 832 128.4 830.4 132.1 829.1 134 826.8 137.2 824.7 139.5 821.2 143 817.8 145.7 815.9 146.9 813.2 149 810.6 151.8 808 154.1 805.8 156.4 804.4 158.7 802.4 155.9 802.4 152.9 802.5 142.7 805.7 138.9 808.8 137.9 812 135.8 816.4 135.6 827.1 124.7 813.1 121.1 810.2 118 808.8 114.2 809.4 114.1Z"/>
<path fill="#FDDC8C" d="M598.8 109.3L598.4 108.4 598.6 106.8 602 106.4 603.4 105.8 606.6 106.1 608.9 106 609 105.2 607.3 104.9 604.8 104.2 603 104.9 599.3 104.9 598.6 103.7 597.7 102.1 596 101 597.2 100.3 598.4 98.2 599.5 96.1 600.2 95.4 601.3 94.7 604.4 94.3 606.9 94.1 609 95.9 610.8 96.8 612.6 99.2 614.7 100.8 615.4 103.5 615.7 105.6 617.2 107.2 617.5 109.1 614.3 109.3 611.7 109 609.4 108.2 604.1 108.2Z"/>
<path fill="#FDDC8C" d="M598.6 106.8L598.4 105.8 599.3 104.9 603 104.9 604.8 104.2 607.3 104.9 609 105.2 608.9 106 606.6 106.1 603.4 105.8 602 106.4Z"/>
<path fill="#F9A562" d="M604.8 114.2L603 113 602.7 111.1 600.6 110.9 600 109.8 598.8 109.3 604.1 108.2 609.4 108.2 609.4 110.5 609.2 111.6 607.3 112.1 605.9 112.3Z"/>
<path fill="#D9ECF3" d="M610.8 121L609.4 119.4 608 117.6 606.2 115.8 604.8 114.2 605.9 112.3 607.3 112.1 609.2 111.6 609.4 110.5 609.4 108.2 611.7 109 614.3 109.3 617.5 109.1 618.9 109.8 621.4 109.8 624.9 109.3 626.7 111.8 628.1 114.1 628.5 115.8 629.6 117 628.8 119.4 630.2 122 628.6 123.1 628.8 126.2 627.9 126.2 625.6 127.5 624.6 126.8 624.7 125 623.5 122.9 621.5 123 620.7 122.9 620.3 121 619.4 119.4 618.2 117.6 614 118 612.9 120.1Z"/>
<path fill="#FDDC8C" d="M617.2 128.4L613.6 126.8 612 125 611 122.9 611.2 121.7 610.8 121 612.9 120.1 614 118 618.2 117.6 619.4 119.4 620.3 121 620.7 122.9 621.5 123 620.3 124.7 617.9 127.5Z"/>
<path fill="#D9ECF3" d="M631.1 137.5L625.8 135.2 622.3 132.1 619.6 130.7 617.7 129.1 617.2 128.4 617.9 127.5 620.3 124.7 621.5 123 623.5 122.9 624.7 125 624.6 126.8 625.6 127.5 627.9 126.2 628.5 128.2 628.1 130 630.9 132.1 631.5 134.2Z"/>
<path fill="#FDDC8C" d="M646.8 134.9L643.6 134.4 640.1 134.7 636.2 135.4 634.5 136.1 631.8 137.4 631.1 137.5 631.5 134.2 630.9 132.1 628.1 130 628.5 128.2 627.9 126.2 628.8 126.2 628.6 123.1 630.2 122 628.8 119.4 629.6 117 630.9 116.9 634.3 115.3 635.9 115.8 636.6 116.9 638.3 116.1 641.2 118.7 646.5 118 648.3 119.4 648.9 124 646.5 128.9 648 133.1Z"/>
<path fill="#F9A562" d="M648.3 119.4L646.5 118 641.2 118.7 638.3 116.1 639 112.7 642.2 109.5 642.6 106.3 645.4 106 646.8 104.5 650.7 102.8 654.2 100 658.6 100 659.2 103.5 661.3 105.6 661.3 107.5 665.2 108.1 665.5 109.1 666.2 110.9 664.8 112.7 662.7 112.5 660.9 114.1 657.2 113.6 655.3 114.1 647.8 114.1 647.5 116.2Z"/>
<path fill="#FDDC8C" d="M662 131.3L661.3 132.2 660 132.5 657 133.3 654.2 134.5 651.6 135.6 650.3 136.2 649.8 135.7 646.8 134.9 648 133.1 646.5 128.9 648.9 124 648.3 119.4 647.5 116.2 647.8 114.1 655.3 114.1 657.2 113.6 657.8 115.5 659 116.5 659.2 119.4 659.5 122.9 659.9 126.8 659.7 128.4 661.3 130.7Z"/>
<path fill="#F9A562" d="M663.5 130.9L662 131.3 661.3 130.7 659.7 128.4 659.9 126.8 659.5 122.9 659.2 119.4 659 116.5 657.8 115.5 657.2 113.6 660.9 114.1 660.6 116.2 662.7 119.7 663.4 121.1 663.5 128.5Z"/>
<path fill="#F9A562" d="M667.4 130.4L666.2 130.5 663.5 130.9 663.5 128.5 663.4 121.1 662.7 119.7 660.6 116.2 660.9 114.1 662.7 112.5 664.8 112.7 666.2 110.9 667.6 109.1 670.5 111.6 671.2 115.5 670.5 117.6 667.6 121 667.3 125Z"/>
<path fill="#D9ECF3" d="M687.8 136.3L687 136.8 684.2 137.2 682.5 137.4 679.3 137.7 677.2 134.9 675.4 132.4 673.6 130.7 669.8 130.3 667.4 130.4 667.3 125 667.6 121 670.5 117.6 671.2 115.5 670.5 111.6 670.6 108.8 672.2 105.2 676.8 104 680.3 104.9 682.5 107 685.3 105.8 689.5 107.5 693 106.1 695.5 105.8 701.2 106.7 704 104.9 705.8 104.5 707.5 106.7 707.9 109.1 709.3 112 706.5 114.1 704.7 117.2 702.9 121.8 700.8 123.2 699.4 127.8 697.6 130 695.2 128 693.4 128.5 692.3 128.9 690.6 130.3 689.2 132.4 688.8 134.5Z"/>
<path fill="#F9A562" d="M692.3 144.6L692.7 142.5 691.6 140.5 692 138.8 689.5 138.6 689.2 136.8 687.8 136.3 688.8 134.5 689.2 132.4 690.6 130.3 692.3 128.9 693.4 128.5 695.2 128 697.6 130 699.4 127.8 700.8 123.2 702.9 121.8 704.7 117.2 706.5 114.1 709.3 112 707.9 109.1 707.5 106.7 708.9 107.7 710.3 109.8 711.1 114.1 710.9 114.8 712.5 117.6 707.9 117.6 707 118.8 708.9 121.8 711.4 122.9 712.5 126.4 709.3 131 708.9 134.2 709.3 135.2 710.7 138.8 711.1 139.8 714.6 142.8 714.9 145.1 714.2 146.9 711.8 146 708.9 145.3 704.7 145.2 697.6 145.2Z"/>
<path fill="#F2693F" d="M714.9 145.1L714.6 142.8 711.1 139.8 710.7 138.8 709.3 135.2 708.9 134.2 709.3 131 712.5 126.4 715.6 125.7 717.8 126.1 721.3 124.7 724.8 121.1 729.8 120.8 734.4 115.5 738.5 114.4 741.4 118 740.7 121.8 743.2 122.2 745.3 125.4 747.1 127.1 750.9 129.6 754.6 135 747.8 134.2 743.9 134.9 740.4 136.7 737.2 138.4 730.5 137.4 726.6 134.9 723.5 137.7 723.5 140.6 716.3 140.5Z"/>
<path fill="#FDDC8C" d="M777.7 138L776 139.7 773.2 139.7 770.7 140.4 767.9 139.5 766.7 140.5 763.6 138.1 760.1 137.4 758 137.7 754.6 135 750.9 129.6 747.1 127.1 745.3 125.4 743.2 122.2 744.6 121.5 746.4 116.5 751.6 119.4 756.2 119 759.8 119.7 761.9 118.3 763.6 116.5 767.2 118.5 772.1 111.6 771.8 110.5 774.9 109.8 774.6 115.1 777.4 117.1 778.1 119.5 778.1 122.5 774.2 124.7 776.4 125.7 780.2 129.2 782.4 133.5 784.7 136.6 779.2 136.7Z"/>
<path fill="#F9A562" d="M691.6 149.4L692.2 146.4 692.3 144.6 697.6 145.2 697.6 149.4Z"/>
<path fill="#F9A562" d="M696.9 166.8L695.3 165.1 691.6 161.4 689.5 157.5 688.8 155.4 690.6 155 690.6 152.9 691.1 151.5 691.6 149.4 697.6 149.4 697.6 145.2 704.7 145.2 704.5 148.3 707.9 148 708.9 150.1 706.8 152.9 708.6 154.7 708.8 158.5 708.6 159.6 707.5 161.4 703.6 161.4 701.9 160 698.7 161.2 699.8 163.5 698.3 165.3Z"/>
<path fill="#D9ECF3" d="M700.1 170.6L699.6 169.8 696.9 166.8 698.3 165.3 699.8 163.5 698.7 161.2 701.9 160 703.6 161.4 707.5 161.4 708.6 159.6 708.8 158.5 708.6 154.7 706.8 152.9 708.9 150.1 707.9 148 704.5 148.3 704.7 145.2 708.9 145.3 711.8 146 714.2 146.9 714.9 145.1 716.3 140.5 723.5 140.6 721.6 145.1 720.8 149.4 720.2 154.7 714.9 160 714.9 164.5 713.9 166.8 711.6 168.1 708.6 170 707.2 168.6 705.1 170 704 169.1 702.2 168.4Z"/>
<path fill="#F9A562" d="M701.3 174.4L701 173.7 700.8 173.2 701.9 173 704 169.1 705.1 170 707.2 168.6 708.6 170 711.6 168.1 713.9 166.8 714.9 164.5 714.9 160 720.2 154.7 720.8 149.4 721.6 145.1 723.5 140.6 723.5 137.7 726.6 134.9 730.5 137.4 737.2 138.4 740.4 136.7 743.9 134.9 747.8 134.2 754.6 135 758 137.7 760.1 137.4 763.6 138.1 766.7 140.5 766.3 144.4 768.2 145.3 765.4 148.7 763.5 150.8 762.2 154.7 762.2 157.8 761 158.7 760.5 160.7 760.2 162.6 761 164.5 761.4 168.6 761.5 174.1 766.3 181.8 759.8 182.9 758 185.6 758.9 187.1 758.9 188.9 757.8 191.7 758 194.9 760.3 196.7 762.9 195.8 762.9 200.4 760.1 200.2 758 197 755.2 196.3 753.8 193.8 752.7 195.1 749.5 194.9 747.4 194.2 747.1 192.8 744.2 193.1 742.4 191.3 740.7 191.6 736.1 192.4 736.5 190 734.7 186.4 735.1 182.2 734.7 178.7 730.5 178.7 730.1 177.3 726.2 177.6 726.1 181.1 719.5 181.5 717.4 178.3 716.3 173.6 704.3 173.6Z"/>
<path fill="#D9ECF3" d="M765.3 156.6L764.7 156.6 762.2 157.8 762.2 154.7 763.5 150.8 765.4 148.7 768.2 145.3 766.3 144.4 766.7 140.5 767.9 139.5 770.7 140.4 773.2 139.7 776 139.7 777.7 138 779.5 142 781.3 146.9 779.5 149 778.1 151.5 777.4 152.5 777.5 156.4 766.5 156.4Z"/>
<path fill="#F9A562" d="M804.4 158.7L802.1 161 799.7 162.4 799.3 164.2 798.4 165.8 797.7 167.2 796.1 169.4 790.8 165.3 790.5 163.5 777.5 156.4 777.4 152.5 778.1 151.5 779.5 149 781.3 146.9 779.5 142 777.7 138 779.2 136.7 784.7 136.6 784.8 137.2 788 137.2 792.2 140.2 797.2 140.7 801.8 137.9 805.7 138.9 802.5 142.7 802.4 152.9 802.4 155.9Z"/>
<path fill="#9ACDE6" d="M765.6 161.4L763.3 162.4 760.2 162.6 760.5 160.7 761 158.7 762.2 157.8 764.7 156.6 765.3 156.6 766.5 158.2 766.7 161Z"/>
<path fill="#F9A562" d="M765.6 161.4L766.5 164.5 763.6 168.1 761.4 168.6 761 164.5 760.2 162.6 763.3 162.4Z"/>
<path fill="#FDDC8C" d="M796.1 169.4L795.8 170.7 794.7 173.7 795.1 175.7 796.5 177.1 797.2 178.7 796.5 180.8 797.2 184.3 798.1 188.2 799.7 189.3 800.5 189.9 793.7 193 790.1 194.2 784.1 193.3 779.9 193.7 779.5 188.2 777.4 187.1 774.1 186.1 770.7 184.8 767.5 183.3 766.3 181.8 761.5 174.1 761.4 168.6 763.6 168.1 766.5 164.5 765.6 161.4 766.7 161 766.5 158.2 765.3 156.6 766.5 156.4 777.5 156.4 790.5 163.5 790.8 165.3Z"/>
<path fill="#D9ECF3" d="M699.2 213.8L699.4 208.7 700.6 206.6 701.9 202 705.1 197.2 706.5 192.8 706.3 190.7 704.9 187.1 703.6 185 704.5 184 705.1 181.8 704 180.6 703.1 178.5 701.3 174.4 704.3 173.6 716.3 173.6 717.4 178.3 719.5 181.5 726.1 181.1 726.2 177.6 730.1 177.3 730.5 178.7 734.7 178.7 735.1 182.2 734.7 186.4 736.5 190 736.1 192.4 740.7 191.6 742.4 191.3 742.5 198.8 735.4 198.8 735.4 210.1 740.3 215.2 733.3 216.4 724.5 215.7 722.7 214.3 707.2 214.3 705.4 212.8 703.6 212.9Z"/>
<path fill="#D9ECF3" d="M700.8 173.2L700.6 172.3 700.1 170.6 702.2 168.4 704 169.1 701.9 173Z"/>
<path fill="#F9A562" d="M740.3 215.2L735.4 210.1 735.4 198.8 742.5 198.8 742.4 191.3 744.2 193.1 747.1 192.8 747.4 194.2 749.5 194.9 752.7 195.1 753.8 193.8 755.2 196.3 758 197 760.1 200.2 762.9 200.4 762.9 195.8 760.3 196.7 758 194.9 757.8 191.7 758.9 188.9 758.9 187.1 758 185.6 759.8 182.9 766.3 181.8 767.5 183.3 770.7 184.8 774.1 186.1 775.3 188.2 776 191 774.9 193.8 775.3 197 773.2 200.9 774.9 202.3 768.9 204.4 764.4 205.7 765.1 208.1 759.9 209.2 759.4 211.1 755.2 213.6 753.1 216.3 749 216.2 746.9 215.7 743.2 214.7Z"/>
<path fill="#FDDC8C" d="M774.9 202.3L773.2 200.9 775.3 197 774.9 193.8 776 191 775.3 188.2 774.1 186.1 777.4 187.1 779.5 188.2 779.9 193.7 779.2 196 779.5 200.6 780.9 200.9 784.5 205.5 784.1 209.4 782.4 210.1 782.4 213.4 779.2 210.1 779.2 205.8 779.9 204.4Z"/>
<path fill="#D9ECF3" d="M800.5 189.9L801.1 190.7 800.4 193 800.9 198.8 801.1 203 801.6 206 798.6 210.3 796.1 212.2 792.6 213.8 788.4 216.1 785.9 219.3 783.1 221.4 780.8 223 780.2 225.3 781.3 227 782.5 230.6 783.1 231.3 783.1 237.1 782.4 238.7 779.5 240.4 776.7 241.7 773.9 243.1 772.8 244.5 774.1 245 773.9 247.7 771.1 247.5 770.6 244.5 770.7 242.9 770.4 238.7 769.1 235.9 768.2 232 772.5 228.1 772.5 225.6 774.2 222.8 773.2 220 774.2 217.1 773.5 216.1 773.9 211.9 770.7 211 768.2 209.4 765.1 209.4 765.1 208.1 764.4 205.7 768.9 204.4 774.9 202.3 779.9 204.4 779.2 205.8 779.2 210.1 782.4 213.4 782.4 210.1 784.1 209.4 784.5 205.5 780.9 200.9 779.5 200.6 779.2 196 779.9 193.7 784.1 193.3 790.1 194.2 793.7 193Z"/>
<path fill="#D9ECF3" d="M761.4 231.2L756.6 229.1 755.5 225.3 750.2 221.7 746.9 215.7 749 216.2 753.1 216.3 755.2 213.6 759.4 211.1 759.9 209.2 765.1 208.1 765.1 209.4 768.2 209.4 770.7 211 773.9 211.9 773.5 216.1 774.2 217.1 773.2 220 774.2 222.8 772.5 225.6 772.5 228.1 768.2 232 764.7 231.8Z"/>
<path fill="#F9A562" d="M728.3 240.3L728.3 230.6 731.8 230.6 731.8 217.6 741.1 218.2 743.9 216.3 746.9 215.7 750.2 221.7 755.5 225.3 756.6 229.1 761.4 231.2 756.6 233.7 753.1 236.4 752.5 238.5 749.2 240.3 747.8 243.6 743.5 243.3 738.9 242.2 737.5 245 734.4 247.7 730.8 247.7 731.2 244.3 729.8 241.2Z"/>
<path fill="#FDDC8C" d="M715.8 253.9L713.2 251.4 711.2 247 710.5 243.3 708.9 239.4 708.9 233.9 708.9 232.9 707 229.7 705.1 226.3 702.9 222.1 700.1 217.5 699.2 213.8 703.6 212.9 705.4 212.8 707.2 214.3 722.7 214.3 724.5 215.7 733.3 216.4 740.3 215.2 743.2 214.7 746.9 215.7 743.9 216.3 741.1 218.2 731.8 217.6 731.8 230.6 728.3 230.6 728.3 240.3 728.3 253.3 724.8 255.1 721.3 254.7 719.2 254.2 718.5 252.4 717.1 252.1Z"/>
<path fill="#D9ECF3" d="M773.9 247.7L772.8 252.8 771.1 254.6 768.6 256.7 767.4 258.3 765.2 261.4 762.1 264.4 758.4 267.8 756.2 269.4 752.7 271.5 748.3 272.7 745.5 273.6 740.4 273.1 735.9 273.6 731.9 274.3 728.4 275.7 725.5 274.3 724.1 274.2 723.1 274 722.7 272.6 720.9 269.4 722 267.6 722.3 266.2 720.9 263.4 718.8 259.9 717.2 256.2 715.8 253.9 717.1 252.1 718.5 252.4 719.2 254.2 721.3 254.7 724.8 255.1 728.3 253.3 728.3 240.3 729.8 241.2 731.2 244.3 730.8 247.7 734.4 247.7 737.5 245 738.9 242.2 743.5 243.3 747.8 243.6 749.2 240.3 752.5 238.5 753.1 236.4 756.6 233.7 761.4 231.2 764.7 231.8 768.2 232 769.1 235.9 770.4 238.7 770.7 242.9 770.6 244.5 768.6 243.7 767.5 243.8 766.5 245.7 766.5 247.5 767.2 248.9 770.4 249.3 771.1 247.5Z"/>
<path fill="#FDDC8C" d="M759.1 253.9L761.7 256.7 760.5 258.4 757.3 261.1 754.5 259.9 753.1 257.4 754.8 255.3 756.9 254.2Z"/>
<path fill="#FDDC8C" d="M770.6 244.5L771.1 247.5 770.4 249.3 767.2 248.9 766.5 247.5 766.5 245.7 767.5 243.8 768.6 243.7Z"/>
<path fill="#F9A562" d="M831.6 195.1L833.9 198.8 835 203.2 835.3 205.5 836 206.9 835 209.2 833.5 207.4 833 209.4 833.7 212.2 832.1 217 830.7 221 830 223.1 828.4 227.9 827.2 231.1 826.5 233.4 825.8 235.3 823.7 241.3 820.8 241.9 817.1 243.3 814.3 241.9 812 239 811.8 235.3 810.4 231.6 811 229.1 814 224.6 814.5 221.7 813.1 216.6 812.9 214 814.7 210.1 817.7 209.4 821.2 208.3 823.7 206.9 824.7 205.1 826.3 204.4 827.2 202 828.8 200.6 830 198.8 830.2 196.8Z"/>
<path fill="#fff" stroke-width="0.7" d="M770 153.3L771.4 152.4 774.2 151.8 776.4 152 778.1 152.9 778.5 154.7 777.8 156.4 777.4 158.5 776 160.3 774.2 161 772.5 161.4 770.7 161 770 158.5 769.8 155.7Z"/>
</g>
<g stroke="#2e2e2e" stroke-width="0.65" stroke-linejoin="round">
<path fill="#D9ECF3" d="M636.9 306.5L639 306.2 641.5 308.3 644 308.6 647.5 308.3 650 309 651.4 310.2 651.6 311.5 651.7 313.9 651.9 315.5 653.3 318.2 653.5 319.6 650.7 319.6 647.5 320.6 644.9 321.2 644.9 323.6 640.5 324.9 638.7 327.4 634.8 328.4 630.9 329.1 627.1 331.6 627.1 336.5 624.9 337.1 622.3 337.6 618.2 337.9 614.3 340.9 613.3 346.1 608.7 350.7 605.9 357.4 597.6 357.4 597.9 355.8 600.2 351.7 601.4 349.2 604.8 344.6 606.6 340.8 609 339 610.4 337.2 611.3 335.2 612.2 334.2 617.7 332.3 621.7 329.1 623.7 325.6 622.8 324.7 623.2 321.7 625.1 318.9 627.7 315.5 630.9 314.3 633.6 312.7 636 308.6Z"/>
<path fill="#9DBFD9" d="M605.9 357.4L608.7 350.7 613.3 346.1 614.3 340.9 618.2 337.9 622.3 337.6 624.9 337.1 627.1 336.5 627.1 341.1 615.4 341.1 615.4 344.6 612.2 351.4 611.9 357.4Z"/>
<path fill="#FDDC8C" d="M650 309L653.5 307.2 655.6 306.7 658.1 305.8 662.3 304.1 668.7 303 671.9 302.6 675.8 303.2 678.2 303 682.1 302.5 685.3 302.6 688.1 302.5 686.7 304.1 687 308.3 686.9 310.6 684.2 312.5 684.6 315.4 687 318.2 689.7 319.6 691.4 326.2 692.5 334.1 692.7 339.4 693 343.6 693.9 346.1 698.3 347.1 700 349.9 684.2 359.3 678.2 364.1 672.8 365.3 669 365.5 669 363 664.1 361.2 662 359.5 661.8 358.4 640.7 344.6 627.1 336.5 627.1 331.6 630.9 329.1 634.8 328.4 638.7 327.4 640.5 324.9 644.9 323.6 644.9 321.2 647.5 320.6 650.7 319.6 653.5 319.6 653.3 318.2 651.9 315.5 651.7 313.9 651.6 311.5 651.4 310.2Z"/>
<path fill="#D9ECF3" d="M688.1 302.5L692.7 301.2 694.1 302.8 696.6 301.9 695.2 304.4 695.2 306.5 696.9 307.6 695.9 310.4 693.4 313.2 696.6 314.3 698.3 315.7 698.3 317.8 695.2 319.9 694.1 321 693.8 323.8 691.4 326.2 689.7 319.6 687 318.2 684.6 315.4 684.2 312.5 686.9 310.6 687 308.3 686.7 304.1Z"/>
<path fill="#FDDC8C" d="M698.3 315.7L701.2 316.9 704.3 316.8 708.2 317.8 711.4 318.5 712.5 321.4 716.3 322.8 721.3 324.2 725.5 325.9 728.4 323.8 728.7 319.6 731.5 317.5 734.4 316.8 737.5 317.1 739.6 319.2 742.5 319.6 746.5 321.2 746 324.2 746 355.2 746 362.3 742.5 362.3 742.5 364.1 714.2 350.1 710.7 351.7 707.9 353.1 700 349.9 698.3 347.1 693.9 346.1 693 343.6 692.7 339.4 692.5 334.1 691.4 326.2 693.8 323.8 694.1 321 695.2 319.9 698.3 317.8Z"/>
<path fill="#D9ECF3" d="M746.5 321.2L749.5 321.4 753.8 322.1 759.8 323.8 763.3 322.8 765.1 321.7 767.5 321.4 770 321.7 771.8 322.4 774.6 323.1 777.1 322.9 778.7 322.4 780.9 328.8 780.1 331.9 778.7 334.9 776.7 333.5 774.9 331.4 773.5 328.8 772.8 327.2 772.5 328.4 773.5 330.5 774.9 332.8 776.4 334.6 777.2 336.9 777.8 338.6 779 340.9 781.1 344.6 783.1 348.2 783.2 349.9 786.9 354.4 788 355.2 746 355.2 746 324.2Z"/>
<path fill="#D7372B" d="M599.5 376.1L600.6 372.2 601.3 369 599.5 364.4 600.4 361.9 599.2 360.2 597.6 359.5 597.6 357.4 605.9 357.4 611.9 357.4 612.2 351.4 615.4 344.6 615.4 341.1 627.1 341.1 627.1 336.5 640.7 344.6 634.8 344.6 638.3 378.2 624.9 378.2 624.6 378.5 620 378.5 619.3 379.6 617.2 377.8 616.1 380.3 614.7 380.8 612.6 379.2 610.8 376.8 609 375.9 606.9 374.1 604.4 374.3 601.3 374.7 600.2 375.4Z"/>
<path fill="#F2693F" d="M614.7 380.8L616.1 380.3 617.2 377.8 619.3 379.6 620 378.5 624.6 378.5 624.9 378.2 638.3 378.2 634.8 344.6 640.7 344.6 661.8 358.4 662 359.5 664.1 361.2 669 363 669 365.5 672.8 365.3 672.6 375 670.5 378.2 668.3 378.7 662.7 378.9 658.6 380 654.2 379.9 650.7 382.8 646.8 384.5 645.4 386 642.6 386.3 642.2 389.5 639 392.7 638.3 396.1 636.6 396.9 635.9 395.8 634.3 395.3 630.9 396.9 629.6 397 628.5 395.8 628.1 394.1 626.7 391.8 624.9 389.3 621.4 389.8 618.9 389.8 617.5 389.1 617.2 387.2 615.7 385.6 615.4 383.5Z"/>
<path fill="#F2693F" d="M670.5 391.6L667.6 389.1 666.2 390.9 665.5 389.1 665.2 388.1 661.3 387.5 661.3 385.6 659.2 383.5 658.6 380 662.7 378.9 668.3 378.7 670.5 378.2 672.6 375 672.8 365.3 678.2 364.1 684.2 359.3 700 349.9 707.9 353.1 710.7 351.7 711.4 357 714.2 361.2 712.5 369.4 712.5 373.2 706.8 377.5 705.2 382.1 705.8 384.5 704 384.9 701.2 386.7 695.5 385.8 693 386.1 689.5 387.5 685.3 385.8 682.5 387 680.3 384.9 676.8 384 672.2 385.2 670.6 388.8Z"/>
<path fill="#D7372B" d="M710.7 351.7L714.2 350.1 742.5 364.1 742.5 377.5 738.6 378.2 737.5 383.5 735.8 386 736.5 388.1 735.1 388.4 737.2 393.7 738.5 394.4 734.4 395.5 729.8 400.8 724.8 401.1 721.3 404.7 717.8 406.1 715.6 405.7 712.5 406.4 711.4 402.9 708.9 401.8 707 398.8 707.9 397.6 712.5 397.6 710.9 394.8 711.1 394.1 710.3 389.8 708.9 387.7 707.5 386.7 705.8 384.5 705.2 382.1 706.8 377.5 712.5 373.2 712.5 369.4 714.2 361.2 711.4 357Z"/>
<path fill="#F9A562" d="M788 355.2L788.4 357.4 789.1 359.1 789.1 363.7 789.9 366.5 791.9 368.3 794 369.4 790.1 371.8 788.4 372.7 788 375.4 786.4 379.6 786.8 382.5 785.4 388.1 781.7 391.2 781.1 394.4 778.8 395.5 778.1 399.5 777.4 397.1 774.6 395.1 774.9 389.8 771.8 390.5 772.1 391.6 767.2 398.5 763.6 396.5 761.9 398.3 759.8 399.7 756.2 399 751.6 399.4 746.4 396.5 744.6 401.5 743.2 402.2 740.7 401.8 741.4 398 738.5 394.4 737.2 393.7 735.1 388.4 736.5 388.1 735.8 386 737.5 383.5 738.6 378.2 742.5 377.5 742.5 364.1 742.5 362.3 746 362.3 746 355.2Z"/>
<path fill="#F9A562" d="M794 369.4L795.1 371.5 796.1 375 797 377.8 798.2 379.6 800.7 380.3 803.2 381.7 805 383.8 807.4 386.3 808.7 387 809.9 388.1 807.4 388.9 803.2 385.2 799.3 381.9 795.4 381.4 793.3 382.1 791.5 380.5 786.8 382.5 786.4 379.6 788 375.4 788.4 372.7 790.1 371.8Z"/>
<path fill="#FDDC8C" d="M809.9 388.1L810.8 389.1 810.6 390.7 808.5 392.1 810.1 392 810.4 392.5 809.4 394.1 805.3 394.1 805.3 392 807.4 388.9Z"/>
<path fill="#FDDC8C" d="M784.7 416.6L782.4 413.5 780.2 409.2 776.4 405.7 774.2 404.7 778.1 402.5 778.1 399.5 778.8 395.5 781.1 394.4 781.7 391.2 785.4 388.1 786.8 382.5 791.5 380.5 793.3 382.1 795.4 381.4 799.3 381.9 803.2 385.2 807.4 388.9 805.3 392 805.3 394.1 809.4 394.1 808.8 394.2 810.2 398 813.1 401.1 827.1 404.7 816.4 415.6 812 415.8 808.8 417.9 805.7 418.9 801.8 417.9 797.2 420.7 792.2 420.2 788 417.2 784.8 417.2Z"/>
<path fill="#D7372B" d="M810.4 392.5L811.3 393 813.4 395.7 816.6 396 820.1 395 823.7 393.7 827.9 393.5 831.4 393 834.6 392.3 836.9 390.7 838.7 391.1 838.1 394.1 839.2 396 837.4 396.5 837.3 399.7 835.3 402.5 833.7 404.7 832 408.4 830.4 412.1 829.1 414 826.8 417.2 824.7 419.5 821.2 423 817.8 425.7 815.9 426.9 813.2 429 810.6 431.8 808 434.1 805.8 436.4 804.4 438.7 802.4 435.9 802.4 432.9 802.5 422.7 805.7 418.9 808.8 417.9 812 415.8 816.4 415.6 827.1 404.7 813.1 401.1 810.2 398 808.8 394.2 809.4 394.1Z"/>
<path fill="#F9A562" d="M598.8 389.3L598.4 388.4 598.6 386.8 602 386.4 603.4 385.8 606.6 386.1 608.9 386 609 385.2 607.3 384.9 604.8 384.2 603 384.9 599.3 384.9 598.6 383.7 597.7 382.1 596 381 597.2 380.3 598.4 378.2 599.5 376.1 600.2 375.4 601.3 374.7 604.4 374.3 606.9 374.1 609 375.9 610.8 376.8 612.6 379.2 614.7 380.8 615.4 383.5 615.7 385.6 617.2 387.2 617.5 389.1 614.3 389.3 611.7 389 609.4 388.2 604.1 388.2Z"/>
<path fill="#F2693F" d="M598.6 386.8L598.4 385.8 599.3 384.9 603 384.9 604.8 384.2 607.3 384.9 609 385.2 608.9 386 606.6 386.1 603.4 385.8 602 386.4Z"/>
<path fill="#F2693F" d="M604.8 394.2L603 393 602.7 391.1 600.6 390.9 600 389.8 598.8 389.3 604.1 388.2 609.4 388.2 609.4 390.5 609.2 391.6 607.3 392.1 605.9 392.3Z"/>
<path fill="#F2693F" d="M610.8 401L609.4 399.4 608 397.6 606.2 395.8 604.8 394.2 605.9 392.3 607.3 392.1 609.2 391.6 609.4 390.5 609.4 388.2 611.7 389 614.3 389.3 617.5 389.1 618.9 389.8 621.4 389.8 624.9 389.3 626.7 391.8 628.1 394.1 628.5 395.8 629.6 397 628.8 399.4 630.2 402 628.6 403.1 628.8 406.2 627.9 406.2 625.6 407.5 624.6 406.8 624.7 405 623.5 402.9 621.5 403 620.7 402.9 620.3 401 619.4 399.4 618.2 397.6 614 398 612.9 400.1Z"/>
<path fill="#F2693F" d="M617.2 408.4L613.6 406.8 612 405 611 402.9 611.2 401.7 610.8 401 612.9 400.1 614 398 618.2 397.6 619.4 399.4 620.3 401 620.7 402.9 621.5 403 620.3 404.7 617.9 407.5Z"/>
<path fill="#F2693F" d="M631.1 417.5L625.8 415.2 622.3 412.1 619.6 410.7 617.7 409.1 617.2 408.4 617.9 407.5 620.3 404.7 621.5 403 623.5 402.9 624.7 405 624.6 406.8 625.6 407.5 627.9 406.2 628.5 408.2 628.1 410 630.9 412.1 631.5 414.2Z"/>
<path fill="#F9A562" d="M646.8 414.9L643.6 414.4 640.1 414.7 636.2 415.4 634.5 416.1 631.8 417.4 631.1 417.5 631.5 414.2 630.9 412.1 628.1 410 628.5 408.2 627.9 406.2 628.8 406.2 628.6 403.1 630.2 402 628.8 399.4 629.6 397 630.9 396.9 634.3 395.3 635.9 395.8 636.6 396.9 638.3 396.1 641.2 398.7 646.5 398 648.3 399.4 648.9 404 646.5 408.9 648 413.1Z"/>
<path fill="#F2693F" d="M648.3 399.4L646.5 398 641.2 398.7 638.3 396.1 639 392.7 642.2 389.5 642.6 386.3 645.4 386 646.8 384.5 650.7 382.8 654.2 379.9 658.6 380 659.2 383.5 661.3 385.6 661.3 387.5 665.2 388.1 665.5 389.1 666.2 390.9 664.8 392.7 662.7 392.5 660.9 394.1 657.2 393.6 655.3 394.1 647.8 394.1 647.5 396.2Z"/>
<path fill="#FDDC8C" d="M662 411.3L661.3 412.2 660 412.5 657 413.3 654.2 414.5 651.6 415.6 650.3 416.2 649.8 415.7 646.8 414.9 648 413.1 646.5 408.9 648.9 404 648.3 399.4 647.5 396.2 647.8 394.1 655.3 394.1 657.2 393.6 657.8 395.5 659 396.5 659.2 399.4 659.5 402.9 659.9 406.8 659.7 408.4 661.3 410.7Z"/>
<path fill="#F9A562" d="M663.5 410.9L662 411.3 661.3 410.7 659.7 408.4 659.9 406.8 659.5 402.9 659.2 399.4 659 396.5 657.8 395.5 657.2 393.6 660.9 394.1 660.6 396.2 662.7 399.7 663.4 401.1 663.5 408.5Z"/>
<path fill="#F2693F" d="M667.4 410.4L666.2 410.5 663.5 410.9 663.5 408.5 663.4 401.1 662.7 399.7 660.6 396.2 660.9 394.1 662.7 392.5 664.8 392.7 666.2 390.9 667.6 389.1 670.5 391.6 671.2 395.5 670.5 397.6 667.6 401 667.3 405Z"/>
<path fill="#F9A562" d="M687.8 416.3L687 416.8 684.2 417.2 682.5 417.4 679.3 417.7 677.2 414.9 675.4 412.4 673.6 410.7 669.8 410.3 667.4 410.4 667.3 405 667.6 401 670.5 397.6 671.2 395.5 670.5 391.6 670.6 388.8 672.2 385.2 676.8 384 680.3 384.9 682.5 387 685.3 385.8 689.5 387.5 693 386.1 695.5 385.8 701.2 386.7 704 384.9 705.8 384.5 707.5 386.7 707.9 389.1 709.3 392 706.5 394.1 704.7 397.2 702.9 401.8 700.8 403.2 699.4 407.8 697.6 410 695.2 408 693.4 408.5 692.3 408.9 690.6 410.3 689.2 412.4 688.8 414.5Z"/>
<path fill="#FDDC8C" d="M692.3 424.6L692.7 422.5 691.6 420.5 692 418.8 689.5 418.6 689.2 416.8 687.8 416.3 688.8 414.5 689.2 412.4 690.6 410.3 692.3 408.9 693.4 408.5 695.2 408 697.6 410 699.4 407.8 700.8 403.2 702.9 401.8 704.7 397.2 706.5 394.1 709.3 392 707.9 389.1 707.5 386.7 708.9 387.7 710.3 389.8 711.1 394.1 710.9 394.8 712.5 397.6 707.9 397.6 707 398.8 708.9 401.8 711.4 402.9 712.5 406.4 709.3 411 708.9 414.2 709.3 415.2 710.7 418.8 711.1 419.8 714.6 422.8 714.9 425.1 714.2 426.9 711.8 426 708.9 425.3 704.7 425.2 697.6 425.2Z"/>
<path fill="#D7372B" d="M714.9 425.1L714.6 422.8 711.1 419.8 710.7 418.8 709.3 415.2 708.9 414.2 709.3 411 712.5 406.4 715.6 405.7 717.8 406.1 721.3 404.7 724.8 401.1 729.8 400.8 734.4 395.5 738.5 394.4 741.4 398 740.7 401.8 743.2 402.2 745.3 405.4 747.1 407.1 750.9 409.6 754.6 415 747.8 414.2 743.9 414.9 740.4 416.7 737.2 418.4 730.5 417.4 726.6 414.9 723.5 417.7 723.5 420.6 716.3 420.5Z"/>
<path fill="#D7372B" d="M777.7 418L776 419.7 773.2 419.7 770.7 420.4 767.9 419.5 766.7 420.5 763.6 418.1 760.1 417.4 758 417.7 754.6 415 750.9 409.6 747.1 407.1 745.3 405.4 743.2 402.2 744.6 401.5 746.4 396.5 751.6 399.4 756.2 399 759.8 399.7 761.9 398.3 763.6 396.5 767.2 398.5 772.1 391.6 771.8 390.5 774.9 389.8 774.6 395.1 777.4 397.1 778.1 399.5 778.1 402.5 774.2 404.7 776.4 405.7 780.2 409.2 782.4 413.5 784.7 416.6 779.2 416.7Z"/>
<path fill="#FDDC8C" d="M691.6 429.4L692.2 426.4 692.3 424.6 697.6 425.2 697.6 429.4Z"/>
<path fill="#FDDC8C" d="M696.9 446.8L695.3 445.1 691.6 441.4 689.5 437.5 688.8 435.4 690.6 435 690.6 432.9 691.1 431.5 691.6 429.4 697.6 429.4 697.6 425.2 704.7 425.2 704.5 428.3 707.9 428 708.9 430.1 706.8 432.9 708.6 434.7 708.8 438.5 708.6 439.6 707.5 441.4 703.6 441.4 701.9 440 698.7 441.2 699.8 443.5 698.3 445.3Z"/>
<path fill="#F9A562" d="M700.1 450.5L699.6 449.8 696.9 446.8 698.3 445.3 699.8 443.5 698.7 441.2 701.9 440 703.6 441.4 707.5 441.4 708.6 439.6 708.8 438.5 708.6 434.7 706.8 432.9 708.9 430.1 707.9 428 704.5 428.3 704.7 425.2 708.9 425.3 711.8 426 714.2 426.9 714.9 425.1 716.3 420.5 723.5 420.6 721.6 425.1 720.8 429.4 720.2 434.7 714.9 440 714.9 444.5 713.9 446.8 711.6 448.1 708.6 450 707.2 448.6 705.1 450 704 449.1 702.2 448.4Z"/>
<path fill="#F2693F" d="M701.3 454.4L701 453.7 700.8 453.2 701.9 453 704 449.1 705.1 450 707.2 448.6 708.6 450 711.6 448.1 713.9 446.8 714.9 444.5 714.9 440 720.2 434.7 720.8 429.4 721.6 425.1 723.5 420.6 723.5 417.7 726.6 414.9 730.5 417.4 737.2 418.4 740.4 416.7 743.9 414.9 747.8 414.2 754.6 415 758 417.7 760.1 417.4 763.6 418.1 766.7 420.5 766.3 424.4 768.2 425.3 765.4 428.7 763.5 430.8 762.2 434.7 762.2 437.8 761 438.7 760.5 440.7 760.2 442.6 761 444.5 761.4 448.6 761.5 454.1 766.3 461.8 759.8 462.9 758 465.6 758.9 467.1 758.9 468.9 757.8 471.7 758 474.9 760.3 476.7 762.9 475.8 762.9 480.4 760.1 480.2 758 477 755.2 476.3 753.8 473.8 752.7 475.1 749.5 474.9 747.4 474.2 747.1 472.8 744.2 473.1 742.4 471.3 740.7 471.6 736.1 472.4 736.5 470 734.7 466.4 735.1 462.2 734.7 458.7 730.5 458.7 730.1 457.3 726.2 457.6 726.1 461.1 719.5 461.5 717.4 458.3 716.3 453.6 704.3 453.6Z"/>
<path fill="#F9A562" d="M765.3 436.6L764.7 436.6 762.2 437.8 762.2 434.7 763.5 430.8 765.4 428.7 768.2 425.3 766.3 424.4 766.7 420.5 767.9 419.5 770.7 420.4 773.2 419.7 776 419.7 777.7 418 779.5 422 781.3 426.9 779.5 429 778.1 431.5 777.4 432.5 777.5 436.4 766.5 436.4Z"/>
<path fill="#FDDC8C" d="M804.4 438.7L802.1 441 799.7 442.4 799.3 444.2 798.4 445.8 797.7 447.2 796.1 449.4 790.8 445.3 790.5 443.5 777.5 436.4 777.4 432.5 778.1 431.5 779.5 429 781.3 426.9 779.5 422 777.7 418 779.2 416.7 784.7 416.6 784.8 417.2 788 417.2 792.2 420.2 797.2 420.7 801.8 417.9 805.7 418.9 802.5 422.7 802.4 432.9 802.4 435.9Z"/>
<path fill="#F9A562" d="M765.6 441.4L763.3 442.4 760.2 442.6 760.5 440.7 761 438.7 762.2 437.8 764.7 436.6 765.3 436.6 766.5 438.2 766.7 441Z"/>
<path fill="#F9A562" d="M765.6 441.4L766.5 444.5 763.6 448.1 761.4 448.6 761 444.5 760.2 442.6 763.3 442.4Z"/>
<path fill="#F9A562" d="M796.1 449.4L795.8 450.7 794.7 453.7 795.1 455.7 796.5 457.1 797.2 458.7 796.5 460.8 797.2 464.3 798.1 468.2 799.7 469.3 800.5 469.9 793.7 473 790.1 474.2 784.1 473.3 779.9 473.7 779.5 468.2 777.4 467.1 774.1 466.1 770.7 464.8 767.5 463.3 766.3 461.8 761.5 454.1 761.4 448.6 763.6 448.1 766.5 444.5 765.6 441.4 766.7 441 766.5 438.2 765.3 436.6 766.5 436.4 777.5 436.4 790.5 443.5 790.8 445.3Z"/>
<path fill="#F2693F" d="M699.2 493.8L699.4 488.7 700.6 486.6 701.9 482 705.1 477.2 706.5 472.8 706.3 470.7 704.9 467.1 703.6 465 704.5 464 705.1 461.8 704 460.6 703.1 458.5 701.3 454.4 704.3 453.6 716.3 453.6 717.4 458.3 719.5 461.5 726.1 461.1 726.2 457.6 730.1 457.3 730.5 458.7 734.7 458.7 735.1 462.2 734.7 466.4 736.5 470 736.1 472.4 740.7 471.6 742.4 471.3 742.5 478.8 735.4 478.8 735.4 490.1 740.3 495.2 733.3 496.4 724.5 495.7 722.7 494.3 707.2 494.3 705.4 492.8 703.6 492.9Z"/>
<path fill="#F2693F" d="M700.8 453.2L700.6 452.3 700.1 450.5 702.2 448.4 704 449.1 701.9 453Z"/>
<path fill="#FDDC8C" d="M740.3 495.2L735.4 490.1 735.4 478.8 742.5 478.8 742.4 471.3 744.2 473.1 747.1 472.8 747.4 474.2 749.5 474.9 752.7 475.1 753.8 473.8 755.2 476.3 758 477 760.1 480.2 762.9 480.4 762.9 475.8 760.3 476.7 758 474.9 757.8 471.7 758.9 468.9 758.9 467.1 758 465.6 759.8 462.9 766.3 461.8 767.5 463.3 770.7 464.8 774.1 466.1 775.3 468.2 776 471 774.9 473.8 775.3 477 773.2 480.9 774.9 482.3 768.9 484.4 764.4 485.7 765.1 488.1 759.9 489.2 759.4 491.1 755.2 493.6 753.1 496.3 749 496.2 746.9 495.7 743.2 494.7Z"/>
<path fill="#F9A562" d="M774.9 482.3L773.2 480.9 775.3 477 774.9 473.8 776 471 775.3 468.2 774.1 466.1 777.4 467.1 779.5 468.2 779.9 473.7 779.2 476 779.5 480.6 780.9 480.9 784.5 485.5 784.1 489.4 782.4 490.1 782.4 493.4 779.2 490.1 779.2 485.8 779.9 484.4Z"/>
<path fill="#F9A562" d="M800.5 469.9L801.1 470.7 800.4 473 800.9 478.8 801.1 483 801.6 486 798.6 490.3 796.1 492.2 792.6 493.8 788.4 496.1 785.9 499.3 783.1 501.4 780.8 503 780.2 505.3 781.3 507 782.5 510.6 783.1 511.3 783.1 517.1 782.4 518.7 779.5 520.4 776.7 521.7 773.9 523.1 772.8 524.5 774.1 525 773.9 527.7 771.1 527.5 770.6 524.5 770.7 522.9 770.4 518.7 769.1 515.9 768.2 512 772.5 508.1 772.5 505.6 774.2 502.8 773.2 500 774.2 497.1 773.5 496.1 773.9 491.9 770.7 491 768.2 489.4 765.1 489.4 765.1 488.1 764.4 485.7 768.9 484.4 774.9 482.3 779.9 484.4 779.2 485.8 779.2 490.1 782.4 493.4 782.4 490.1 784.1 489.4 784.5 485.5 780.9 480.9 779.5 480.6 779.2 476 779.9 473.7 784.1 473.3 790.1 474.2 793.7 473Z"/>
<path fill="#F9A562" d="M761.4 511.2L756.6 509.1 755.5 505.3 750.2 501.7 746.9 495.7 749 496.2 753.1 496.3 755.2 493.6 759.4 491.1 759.9 489.2 765.1 488.1 765.1 489.4 768.2 489.4 770.7 491 773.9 491.9 773.5 496.1 774.2 497.1 773.2 500 774.2 502.8 772.5 505.6 772.5 508.1 768.2 512 764.7 511.8Z"/>
<path fill="#D9ECF3" d="M728.3 520.3L728.3 510.6 731.8 510.6 731.8 497.6 741.1 498.2 743.9 496.3 746.9 495.7 750.2 501.7 755.5 505.3 756.6 509.1 761.4 511.2 756.6 513.7 753.1 516.4 752.5 518.5 749.2 520.3 747.8 523.6 743.5 523.3 738.9 522.2 737.5 525 734.4 527.7 730.8 527.7 731.2 524.3 729.8 521.1Z"/>
<path fill="#FDDC8C" d="M715.8 533.9L713.2 531.4 711.2 527 710.5 523.3 708.9 519.4 708.9 513.9 708.9 512.9 707 509.7 705.1 506.3 702.9 502.1 700.1 497.5 699.2 493.8 703.6 492.9 705.4 492.8 707.2 494.3 722.7 494.3 724.5 495.7 733.3 496.4 740.3 495.2 743.2 494.7 746.9 495.7 743.9 496.3 741.1 498.2 731.8 497.6 731.8 510.6 728.3 510.6 728.3 520.3 728.3 533.3 724.8 535.1 721.3 534.7 719.2 534.2 718.5 532.4 717.1 532.1Z"/>
<path fill="#9ACDE6" d="M773.9 527.7L772.8 532.8 771.1 534.6 768.6 536.7 767.4 538.3 765.2 541.4 762.1 544.4 758.4 547.8 756.2 549.4 752.7 551.5 748.3 552.7 745.5 553.6 740.4 553.1 735.9 553.6 731.9 554.3 728.4 555.7 725.5 554.3 724.1 554.2 723.1 554 722.7 552.6 720.9 549.4 722 547.6 722.3 546.2 720.9 543.4 718.8 539.9 717.2 536.2 715.8 533.9 717.1 532.1 718.5 532.4 719.2 534.2 721.3 534.7 724.8 535.1 728.3 533.3 728.3 520.3 729.8 521.1 731.2 524.3 730.8 527.7 734.4 527.7 737.5 525 738.9 522.2 743.5 523.3 747.8 523.6 749.2 520.3 752.5 518.5 753.1 516.4 756.6 513.7 761.4 511.2 764.7 511.8 768.2 512 769.1 515.9 770.4 518.7 770.7 522.9 770.6 524.5 768.6 523.7 767.5 523.8 766.5 525.7 766.5 527.5 767.2 528.9 770.4 529.3 771.1 527.5Z"/>
<path fill="#F9A562" d="M759.1 533.9L761.7 536.7 760.5 538.4 757.3 541.1 754.5 539.9 753.1 537.4 754.8 535.3 756.9 534.2Z"/>
<path fill="#F9A562" d="M770.6 524.5L771.1 527.5 770.4 529.3 767.2 528.9 766.5 527.5 766.5 525.7 767.5 523.8 768.6 523.7Z"/>
<path fill="#F2693F" d="M831.6 475.1L833.9 478.8 835 483.2 835.3 485.5 836 486.9 835 489.2 833.5 487.4 833 489.4 833.7 492.2 832.1 497 830.7 501 830 503.1 828.4 507.9 827.2 511.1 826.5 513.4 825.8 515.3 823.7 521.3 820.8 521.9 817.1 523.3 814.3 521.9 812 519 811.8 515.3 810.4 511.6 811 509.1 814 504.6 814.5 501.7 813.1 496.6 812.9 494 814.7 490.1 817.7 489.4 821.2 488.3 823.7 486.9 824.7 485.1 826.3 484.4 827.2 482 828.8 480.6 830 478.8 830.2 476.8Z"/>
<path fill="#fff" stroke-width="0.7" d="M770 433.3L771.4 432.4 774.2 431.8 776.4 432 778.1 432.9 778.5 434.7 777.8 436.4 777.4 438.5 776 440.3 774.2 441 772.5 441.4 770.7 441 770 438.5 769.8 435.7Z"/>
</g>
<g fill="#333"><circle cx="568.9" cy="92.5" r="0.6"/><circle cx="572.1" cy="93.8" r="0.6"/><circle cx="577.3" cy="94.5" r="0.6"/><circle cx="577.0" cy="96.4" r="0.6"/><circle cx="571.5" cy="99.6" r="0.6"/><circle cx="574.7" cy="99.4" r="0.6"/><circle cx="576.0" cy="99.0" r="0.6"/><circle cx="810.5" cy="193.9" r="0.6"/><circle cx="812.5" cy="195.1" r="0.6"/><circle cx="814.7" cy="195.5" r="0.6"/><circle cx="568.9" cy="372.5" r="0.6"/><circle cx="572.1" cy="373.8" r="0.6"/><circle cx="577.3" cy="374.5" r="0.6"/><circle cx="577.0" cy="376.4" r="0.6"/><circle cx="571.5" cy="379.6" r="0.6"/><circle cx="574.7" cy="379.4" r="0.6"/><circle cx="576.0" cy="379.0" r="0.6"/><circle cx="810.5" cy="473.9" r="0.6"/><circle cx="812.5" cy="475.1" r="0.6"/><circle cx="814.7" cy="475.5" r="0.6"/></g>
<g class="b" font-size="12.3" transform="scale(0.93,1)">
<text class="b" x="610.8" y="10" textLength="86.0" lengthAdjust="spacingAndGlyphs">SPAR capacity</text>
<text class="b" x="611.3" y="293" textLength="24.2" lengthAdjust="spacingAndGlyphs">IDVI</text>
<text class="b" x="4.1" y="308" textLength="100.5" lengthAdjust="spacingAndGlyphs">Importation risk</text>
<text class="b" x="154.6" y="308" textLength="116.1" lengthAdjust="spacingAndGlyphs">Population density</text>
<text class="b" x="154.6" y="325.9" textLength="80.1" lengthAdjust="spacingAndGlyphs">(people/km<tspan dy="-4" font-size="7.5">2</tspan><tspan dy="4">)</tspan></text>
</g>
<rect x="869.5" y="42.0" width="15.5" height="9.4" fill="#D7372B" stroke="#222" stroke-width="0.9"/>
<rect x="869.5" y="58.0" width="15.5" height="9.4" fill="#F2693F" stroke="#222" stroke-width="0.9"/>
<rect x="869.5" y="74.0" width="15.5" height="9.4" fill="#F9A562" stroke="#222" stroke-width="0.9"/>
<rect x="869.5" y="90.0" width="15.5" height="9.4" fill="#FDDC8C" stroke="#222" stroke-width="0.9"/>
<rect x="869.5" y="106.0" width="15.5" height="9.4" fill="#D9ECF3" stroke="#222" stroke-width="0.9"/>
<rect x="869.5" y="122.0" width="15.5" height="9.4" fill="#9ACDE6" stroke="#222" stroke-width="0.9"/>
<rect x="869.5" y="138.0" width="15.5" height="9.4" fill="#62A3CE" stroke="#222" stroke-width="0.9"/>
<rect x="869.5" y="154.0" width="15.5" height="9.4" fill="#4578B6" stroke="#222" stroke-width="0.9"/>
<rect x="144" y="340.9" width="15.6" height="9" fill="#FFFBDC" stroke="#222" stroke-width="0.9"/>
<rect x="144" y="358.1" width="15.6" height="9" fill="#FBF7BE" stroke="#222" stroke-width="0.9"/>
<rect x="144" y="375.3" width="15.6" height="9" fill="#F8F0A0" stroke="#222" stroke-width="0.9"/>
<rect x="144" y="392.4" width="15.6" height="9" fill="#FBCB7C" stroke="#222" stroke-width="0.9"/>
<rect x="144" y="409.6" width="15.6" height="9" fill="#F9A15A" stroke="#222" stroke-width="0.9"/>
<rect x="144" y="426.8" width="15.6" height="9" fill="#F58A3C" stroke="#222" stroke-width="0.9"/>
<rect x="144" y="444.0" width="15.6" height="9" fill="#EF5A2E" stroke="#222" stroke-width="0.9"/>
<rect x="144" y="461.2" width="15.6" height="9" fill="#E62B25" stroke="#222" stroke-width="0.9"/>
<rect x="144" y="478.3" width="15.6" height="9" fill="#C41E2A" stroke="#222" stroke-width="0.9"/>
<rect x="144" y="495.5" width="15.6" height="9" fill="#9E1B32" stroke="#222" stroke-width="0.9"/>
<rect x="144" y="512.7" width="15.6" height="9" fill="#5E0F28" stroke="#222" stroke-width="0.9"/>
<g font-size="12" transform="scale(0.9,1)">
<text x="989.2" y="51">0</text><text x="989.2" y="106.8">50</text><text x="989.2" y="163" textLength="21.6" lengthAdjust="spacingAndGlyphs">100</text>
<text x="182.2" y="349.8">0</text><text x="182.2" y="435.7" textLength="21.7" lengthAdjust="spacingAndGlyphs">250</text><text x="182.2" y="521.6" textLength="29.2" lengthAdjust="spacingAndGlyphs">1000</text>
<text x="96.2" y="382.3" textLength="47.1" lengthAdjust="spacingAndGlyphs">1×10<tspan dy="-4" font-size="7.5">–2·5</tspan></text>
<text x="96.2" y="453.4" textLength="47.1" lengthAdjust="spacingAndGlyphs">1×10<tspan dy="-4" font-size="7.5">–3·5</tspan></text>
<text x="96.2" y="491.6" textLength="41.1" lengthAdjust="spacingAndGlyphs">1×10<tspan dy="-4" font-size="7.5">–4</tspan></text>
<text x="96.2" y="517.9" textLength="48.8" lengthAdjust="spacingAndGlyphs">&lt;1×10<tspan dy="-4" font-size="7.5">–4</tspan></text>
</g>
</svg></body></html>
